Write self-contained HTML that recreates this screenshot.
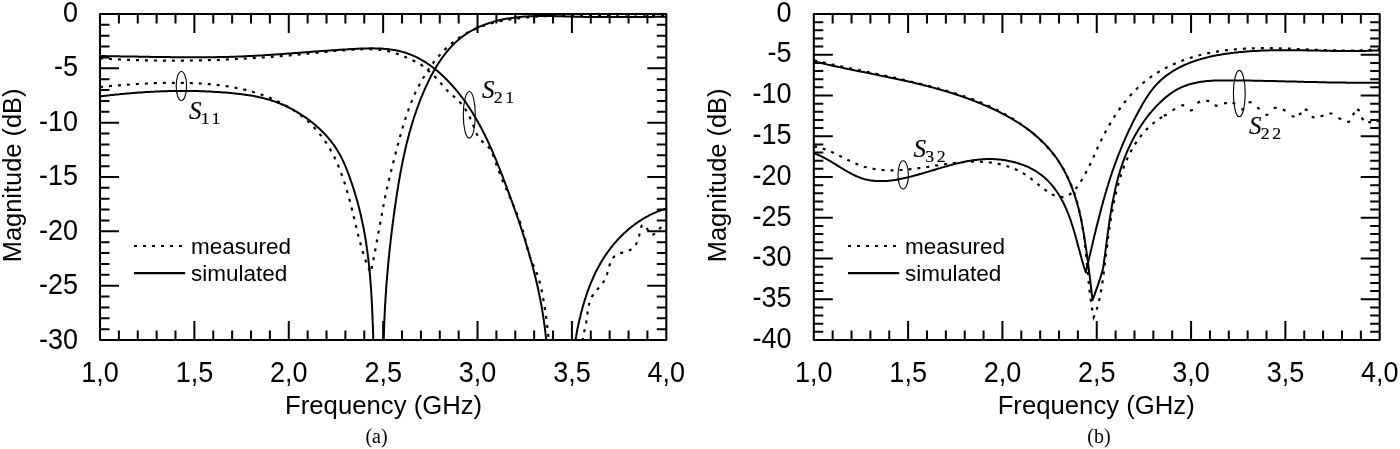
<!DOCTYPE html><html><head><meta charset="utf-8"><title>S-parameters</title><style>
html,body{margin:0;padding:0;background:#fff;}
body{width:1400px;height:449px;overflow:hidden;}
svg{display:block;will-change:transform;}
.t{font-family:"Liberation Sans",sans-serif;font-size:27px;fill:#000;}
.a{font-family:"Liberation Sans",sans-serif;font-size:25.6px;fill:#000;}
.l{font-family:"Liberation Sans",sans-serif;font-size:22.5px;fill:#000;}
.c{font-family:"Liberation Serif",serif;font-size:20px;fill:#000;}
.s{font-family:"Liberation Serif",serif;font-style:italic;font-size:25px;fill:#000;stroke:#000;stroke-width:0.2px;}
.sub{font-family:"Liberation Serif",serif;font-size:17.5px;letter-spacing:2.4px;fill:#000;stroke:#000;stroke-width:0.15px;}
</style></head><body><svg width="1400" height="449" viewBox="0 0 1400 449">
<defs><clipPath id="ca"><rect x="100" y="14" width="566.3" height="326"/></clipPath><clipPath id="cb"><rect x="813.8" y="14" width="565.9" height="326"/></clipPath></defs>
<g clip-path="url(#ca)">
<path d="M100.0 56.1L101.2 56.1 102.4 56.1 103.6 56.1 104.8 56.1 106.0 56.2 107.2 56.2 108.4 56.2 109.6 56.2 110.8 56.2 112.0 56.2 113.2 56.3 114.4 56.3 115.6 56.3 116.8 56.3 118.0 56.3 119.2 56.3 120.4 56.4 121.6 56.4 122.8 56.4 124.0 56.4 125.2 56.4 126.4 56.5 127.6 56.5 128.8 56.5 130.0 56.5 131.2 56.5 132.4 56.6 133.6 56.6 134.8 56.6 136.0 56.6 137.2 56.6 138.4 56.7 139.6 56.7 140.8 56.7 142.0 56.7 143.2 56.7 144.5 56.8 145.7 56.8 146.9 56.8 148.1 56.8 149.3 56.8 150.5 56.9 151.7 56.9 152.9 56.9 154.1 56.9 155.3 56.9 156.5 57.0 157.7 57.0 158.9 57.0 160.1 57.0 161.3 57.0 162.5 57.1 163.7 57.1 164.9 57.1 166.2 57.1 167.4 57.1 168.6 57.1 169.8 57.1 171.0 57.2 172.2 57.2 173.4 57.2 174.6 57.2 175.8 57.2 177.0 57.2 178.2 57.2 179.4 57.2 180.6 57.3 181.8 57.3 183.0 57.3 184.2 57.3 185.4 57.3 186.7 57.3 187.9 57.3 189.1 57.3 190.3 57.3 191.5 57.3 192.7 57.3 193.9 57.3 195.1 57.3 196.3 57.3 197.5 57.3 198.7 57.3 199.9 57.3 201.1 57.3 202.3 57.3 203.5 57.3 204.7 57.3 205.9 57.3 207.1 57.3 208.3 57.2 209.6 57.2 210.8 57.2 212.0 57.2 213.2 57.2 214.4 57.2 215.6 57.2 216.8 57.1 218.0 57.1 219.2 57.1 220.4 57.1 221.6 57.1 222.8 57.0 224.0 57.0 225.2 57.0 226.4 56.9 227.6 56.9 228.8 56.9 230.0 56.8 231.2 56.8 232.4 56.8 233.6 56.7 234.8 56.7 236.0 56.7 237.2 56.6 238.4 56.6 239.6 56.5 240.8 56.5 242.0 56.4 243.2 56.4 244.4 56.3 245.6 56.3 246.8 56.2 248.0 56.1 249.2 56.1 250.4 56.0 251.6 56.0 252.8 55.9 254.0 55.8 255.2 55.8 256.4 55.7 257.6 55.6 258.8 55.6 260.0 55.5 261.2 55.4 262.4 55.4 263.6 55.3 264.8 55.2 265.9 55.1 267.1 55.1 268.3 55.0 269.5 54.9 270.7 54.8 271.9 54.7 273.1 54.7 274.3 54.6 275.5 54.5 276.7 54.4 277.9 54.3 279.1 54.3 280.3 54.2 281.5 54.1 282.7 54.0 283.9 53.9 285.1 53.8 286.3 53.7 287.5 53.6 288.7 53.6 289.9 53.5 291.1 53.4 292.3 53.3 293.5 53.2 294.7 53.1 295.8 53.0 297.0 52.9 298.2 52.8 299.4 52.7 300.6 52.7 301.8 52.6 303.0 52.5 304.2 52.4 305.4 52.3 306.6 52.2 307.8 52.1 309.0 52.0 310.2 51.9 311.4 51.8 312.6 51.7 313.8 51.6 315.0 51.6 316.2 51.5 317.4 51.4 318.6 51.3 319.8 51.2 321.0 51.1 322.2 51.0 323.4 50.9 324.6 50.8 325.8 50.7 327.1 50.7 328.3 50.6 329.5 50.5 330.7 50.4 331.9 50.3 333.1 50.2 334.3 50.2 335.5 50.1 336.7 50.0 337.9 49.9 339.1 49.8 340.3 49.7 341.5 49.7 342.7 49.6 344.0 49.5 345.2 49.4 346.4 49.4 347.6 49.3 348.8 49.2 350.0 49.1 351.2 49.1 352.4 49.0 353.7 48.9 354.9 48.9 356.1 48.8 357.3 48.7 358.5 48.7 359.7 48.6 360.9 48.6 362.2 48.5 363.4 48.5 364.6 48.4 365.8 48.4 367.0 48.4 368.2 48.4 369.4 48.3 370.6 48.3 371.8 48.3 373.1 48.3 374.3 48.4 375.5 48.4 376.7 48.4 377.9 48.4 379.1 48.5 380.3 48.5 381.5 48.6 382.6 48.7 383.8 48.8 385.0 48.9 386.2 49.0 387.4 49.1 388.6 49.2 389.8 49.4 390.9 49.5 392.1 49.7 393.3 49.9 394.4 50.1 395.6 50.3 396.8 50.5 397.9 50.8 399.1 51.0 400.2 51.3 401.4 51.6 402.5 51.9 403.6 52.2 404.8 52.5 405.9 52.9 407.0 53.3 408.1 53.7 409.2 54.1 410.3 54.5 411.5 54.9 412.6 55.4 413.6 55.9 414.7 56.4 415.8 56.9 416.9 57.4 418.0 58.0 419.0 58.5 420.1 59.1 421.1 59.7 422.2 60.3 423.2 60.9 424.3 61.5 425.3 62.1 426.3 62.8 427.3 63.5 428.3 64.1 429.3 64.8 430.3 65.5 431.3 66.2 432.3 67.0 433.3 67.7 434.2 68.4 435.2 69.2 436.1 70.0 437.1 70.7 438.0 71.5 438.9 72.3 439.8 73.1 440.7 73.9 441.6 74.8 442.5 75.6 443.4 76.4 444.3 77.3 445.1 78.1 446.0 79.0 446.9 79.8 447.7 80.7 448.5 81.5 449.4 82.4 450.2 83.3 451.0 84.2 451.8 85.1 452.6 86.0 453.4 86.9 454.2 87.8 455.0 88.7 455.8 89.6 456.6 90.5 457.3 91.4 458.1 92.4 458.8 93.3 459.6 94.2 460.3 95.2 461.0 96.1 461.8 97.1 462.5 98.0 463.2 99.0 463.9 99.9 464.6 100.9 465.3 101.9 466.0 102.9 466.7 103.8 467.3 104.8 468.0 105.8 468.7 106.8 469.3 107.8 470.0 108.8 470.6 109.8 471.3 110.8 471.9 111.8 472.6 112.8 473.2 113.9 473.8 114.9 474.4 115.9 475.0 116.9 475.6 118.0 476.2 119.0 476.8 120.0 477.4 121.1 478.0 122.1 478.6 123.2 479.2 124.2 479.8 125.3 480.3 126.3 480.9 127.4 481.5 128.5 482.0 129.5 482.6 130.6 483.1 131.7 483.7 132.7 484.2 133.8 484.8 134.9 485.3 136.0 485.8 137.1 486.3 138.1 486.9 139.2 487.4 140.3 487.9 141.4 488.4 142.5 488.9 143.6 489.4 144.7 489.9 145.8 490.4 146.9 490.9 148.0 491.4 149.1 491.9 150.2 492.4 151.3 492.9 152.4 493.3 153.5 493.8 154.7 494.3 155.8 494.8 156.9 495.2 158.0 495.7 159.1 496.2 160.2 496.6 161.4 497.1 162.5 497.5 163.6 498.0 164.7 498.4 165.9 498.9 167.0 499.3 168.1 499.8 169.2 500.2 170.4 500.7 171.5 501.1 172.6 501.6 173.8 502.0 174.9 502.4 176.0 502.9 177.1 503.3 178.3 503.7 179.4 504.1 180.5 504.6 181.7 505.0 182.8 505.4 183.9 505.8 185.1 506.3 186.2 506.7 187.3 507.1 188.5 507.5 189.6 508.0 190.7 508.4 191.9 508.8 193.0 509.2 194.1 509.6 195.3 510.0 196.4 510.4 197.5 510.9 198.6 511.3 199.8 511.7 200.9 512.1 202.0 512.5 203.2 512.9 204.3 513.3 205.4 513.7 206.6 514.1 207.7 514.5 208.8 514.9 210.0 515.3 211.1 515.7 212.2 516.1 213.3 516.5 214.5 516.9 215.6 517.3 216.7 517.7 217.9 518.1 219.0 518.5 220.1 518.9 221.3 519.2 222.4 519.6 223.5 520.0 224.7 520.4 225.8 520.8 226.9 521.1 228.1 521.5 229.2 521.9 230.3 522.3 231.5 522.6 232.6 523.0 233.8 523.4 234.9 523.7 236.0 524.1 237.2 524.5 238.3 524.8 239.4 525.2 240.6 525.5 241.7 525.9 242.9 526.2 244.0 526.6 245.2 526.9 246.3 527.3 247.4 527.6 248.6 528.0 249.7 528.3 250.9 528.6 252.0 529.0 253.2 529.3 254.3 529.6 255.5 530.0 256.6 530.3 257.8 530.6 258.9 530.9 260.1 531.3 261.2 531.6 262.4 531.9 263.6 532.2 264.7 532.5 265.9 532.8 267.0 533.1 268.2 533.4 269.4 533.7 270.5 534.0 271.7 534.3 272.9 534.6 274.0 534.9 275.2 535.2 276.4 535.5 277.5 535.8 278.7 536.0 279.9 536.3 281.1 536.6 282.2 536.9 283.4 537.1 284.6 537.4 285.8 537.7 286.9 537.9 288.1 538.2 289.3 538.4 290.5 538.7 291.7 538.9 292.9 539.2 294.1 539.4 295.2 539.7 296.4 539.9 297.6 540.1 298.8 540.4 300.0 540.6 301.2 540.8 302.4 541.0 303.6 541.3 304.8 541.5 306.0 541.7 307.1 541.9 308.3 542.1 309.5 542.3 310.7 542.5 311.9 542.7 313.1 542.9 314.3 543.1 315.5 543.3 316.7 543.4 317.9 543.6 319.1 543.8 320.3 544.0 321.5 544.1 322.7 544.3 323.9 544.5 325.1 544.6 326.3 544.8 327.4 544.9 328.6 545.1 329.8 545.2 331.0 545.4 332.2 545.5 333.4 545.6 334.6 545.8 335.8 545.9 337.0 546.0 338.2 546.1 339.4 546.2 340.5 546.3 341.7 546.4 342.9 546.5 344.1 546.6 345.3 546.7 346.5 546.8 347.6 546.9 348.8 547.0 350.0" stroke="#000" stroke-width="2" fill="none" stroke-linejoin="round"/>
<path d="M573.8 350.0L574.0 348.8 574.2 347.7 574.3 346.5 574.5 345.3 574.7 344.1 574.9 343.0 575.1 341.8 575.3 340.6 575.5 339.4 575.7 338.2 576.0 337.0 576.2 335.9 576.4 334.7 576.6 333.5 576.8 332.3 577.1 331.1 577.3 329.9 577.5 328.7 577.8 327.6 578.0 326.4 578.3 325.2 578.5 324.0 578.8 322.8 579.1 321.6 579.3 320.4 579.6 319.2 579.9 318.1 580.2 316.9 580.5 315.7 580.7 314.5 581.0 313.3 581.3 312.1 581.7 311.0 582.0 309.8 582.3 308.6 582.6 307.4 582.9 306.3 583.3 305.1 583.6 303.9 584.0 302.7 584.3 301.6 584.7 300.4 585.0 299.2 585.4 298.1 585.8 296.9 586.2 295.8 586.5 294.6 586.9 293.5 587.3 292.3 587.7 291.2 588.2 290.0 588.6 288.9 589.0 287.7 589.4 286.6 589.9 285.5 590.3 284.3 590.8 283.2 591.2 282.1 591.7 281.0 592.2 279.9 592.7 278.8 593.2 277.6 593.7 276.5 594.2 275.4 594.7 274.3 595.2 273.3 595.7 272.2 596.3 271.1 596.8 270.0 597.4 268.9 598.0 267.9 598.5 266.8 599.1 265.7 599.7 264.7 600.3 263.6 600.9 262.6 601.5 261.5 602.1 260.5 602.8 259.5 603.4 258.5 604.1 257.4 604.7 256.4 605.4 255.4 606.1 254.4 606.8 253.4 607.4 252.4 608.2 251.4 608.9 250.5 609.6 249.5 610.3 248.5 611.1 247.6 611.8 246.6 612.6 245.7 613.3 244.7 614.1 243.8 614.9 242.9 615.7 242.0 616.5 241.1 617.3 240.2 618.1 239.3 618.9 238.4 619.8 237.5 620.6 236.7 621.5 235.8 622.3 235.0 623.2 234.1 624.1 233.3 625.0 232.5 625.8 231.7 626.7 230.9 627.7 230.1 628.6 229.3 629.5 228.5 630.4 227.7 631.4 227.0 632.3 226.2 633.3 225.5 634.2 224.8 635.2 224.1 636.2 223.4 637.2 222.7 638.1 222.0 639.1 221.3 640.2 220.6 641.2 220.0 642.2 219.4 643.2 218.7 644.3 218.1 645.3 217.5 646.4 216.9 647.4 216.3 648.5 215.8 649.5 215.2 650.6 214.7 651.7 214.2 652.8 213.6 653.9 213.1 655.0 212.6 656.1 212.2 657.2 211.7 658.4 211.2 659.5 210.8 660.6 210.4 661.8 210.0 662.9 209.6 664.1 209.2 665.3 208.8 666.4 208.5 667.6 208.1 668.8 207.8 670.0 207.5" stroke="#000" stroke-width="2" fill="none" stroke-linejoin="round"/>
<path d="M100.0 96.4L101.2 96.3 102.4 96.1 103.6 96.0 104.8 95.8 106.0 95.7 107.2 95.5 108.4 95.4 109.6 95.3 110.8 95.1 112.0 95.0 113.2 94.9 114.4 94.7 115.6 94.6 116.8 94.5 118.0 94.4 119.2 94.3 120.4 94.1 121.6 94.0 122.8 93.9 124.0 93.8 125.2 93.7 126.4 93.6 127.6 93.5 128.8 93.4 130.0 93.3 131.2 93.2 132.4 93.1 133.6 93.0 134.8 92.9 136.0 92.8 137.2 92.7 138.4 92.6 139.6 92.5 140.8 92.4 142.0 92.4 143.2 92.3 144.4 92.2 145.6 92.1 146.8 92.0 148.0 92.0 149.2 91.9 150.4 91.8 151.6 91.8 152.8 91.7 154.0 91.7 155.2 91.6 156.4 91.5 157.6 91.5 158.8 91.4 160.0 91.4 161.2 91.3 162.4 91.3 163.6 91.3 164.8 91.2 166.0 91.2 167.2 91.2 168.4 91.1 169.6 91.1 170.8 91.1 172.0 91.0 173.2 91.0 174.4 91.0 175.6 91.0 176.8 91.0 178.0 91.0 179.2 90.9 180.4 90.9 181.6 90.9 182.8 90.9 184.0 90.9 185.2 90.9 186.4 90.9 187.6 91.0 188.8 91.0 190.0 91.0 191.2 91.0 192.4 91.0 193.6 91.0 194.8 91.1 196.0 91.1 197.2 91.1 198.4 91.1 199.6 91.2 200.8 91.2 202.0 91.3 203.2 91.3 204.4 91.3 205.6 91.4 206.8 91.4 208.0 91.5 209.2 91.5 210.4 91.6 211.6 91.7 212.8 91.7 214.0 91.8 215.3 91.9 216.5 91.9 217.7 92.0 218.9 92.1 220.1 92.2 221.3 92.3 222.5 92.4 223.7 92.4 224.9 92.5 226.1 92.6 227.3 92.7 228.5 92.8 229.7 92.9 230.9 93.0 232.1 93.2 233.3 93.3 234.5 93.4 235.7 93.5 236.9 93.7 238.2 93.8 239.4 93.9 240.6 94.1 241.8 94.2 243.0 94.4 244.2 94.5 245.3 94.7 246.5 94.9 247.7 95.1 248.9 95.2 250.1 95.4 251.3 95.6 252.5 95.8 253.7 96.1 254.9 96.3 256.0 96.5 257.2 96.7 258.4 97.0 259.6 97.3 260.7 97.5 261.9 97.8 263.1 98.1 264.2 98.4 265.4 98.7 266.6 99.0 267.7 99.3 268.9 99.6 270.0 100.0 271.1 100.3 272.3 100.7 273.4 101.1 274.5 101.4 275.7 101.8 276.8 102.3 277.9 102.7 279.0 103.1 280.1 103.6 281.2 104.0 282.4 104.5 283.4 105.0 284.5 105.4 285.6 105.9 286.7 106.5 287.8 107.0 288.9 107.5 289.9 108.1 291.0 108.6 292.1 109.2 293.1 109.8 294.2 110.3 295.2 110.9 296.3 111.5 297.3 112.2 298.3 112.8 299.3 113.4 300.4 114.1 301.4 114.7 302.4 115.4 303.4 116.1 304.4 116.7 305.4 117.4 306.4 118.1 307.4 118.8 308.3 119.6 309.3 120.3 310.3 121.0 311.2 121.8 312.2 122.5 313.1 123.3 314.1 124.0 315.0 124.8 315.9 125.6 316.8 126.4 317.7 127.2 318.6 128.0 319.5 128.8 320.4 129.7 321.3 130.5 322.1 131.3 323.0 132.2 323.8 133.0 324.6 133.9 325.5 134.8 326.3 135.7 327.1 136.6 327.9 137.5 328.6 138.4 329.4 139.3 330.2 140.2 330.9 141.1 331.6 142.1 332.4 143.0 333.1 144.0 333.8 144.9 334.5 145.9 335.1 146.9 335.8 147.9 336.5 148.9 337.1 149.9 337.7 150.9 338.3 151.9 338.9 152.9 339.5 154.0 340.1 155.0 340.7 156.1 341.2 157.2 341.8 158.2 342.3 159.3 342.8 160.4 343.3 161.5 343.8 162.6 344.3 163.7 344.8 164.8 345.3 165.9 345.7 167.0 346.2 168.1 346.6 169.2 347.1 170.4 347.5 171.5 347.9 172.6 348.4 173.8 348.8 174.9 349.2 176.0 349.6 177.2 350.0 178.3 350.4 179.4 350.8 180.6 351.2 181.7 351.6 182.9 352.0 184.0 352.4 185.2 352.8 186.3 353.1 187.4 353.5 188.6 353.9 189.7 354.2 190.9 354.6 192.0 354.9 193.2 355.3 194.4 355.6 195.5 356.0 196.7 356.3 197.8 356.6 199.0 357.0 200.1 357.3 201.3 357.6 202.5 357.9 203.6 358.2 204.8 358.5 206.0 358.8 207.1 359.1 208.3 359.4 209.5 359.7 210.6 360.0 211.8 360.3 213.0 360.6 214.1 360.8 215.3 361.1 216.5 361.4 217.7 361.6 218.8 361.9 220.0 362.1 221.2 362.4 222.4 362.6 223.5 362.9 224.7 363.1 225.9 363.3 227.1 363.6 228.2 363.8 229.4 364.0 230.6 364.2 231.8 364.5 233.0 364.7 234.2 364.9 235.3 365.1 236.5 365.3 237.7 365.5 238.9 365.7 240.1 365.9 241.3 366.1 242.4 366.2 243.6 366.4 244.8 366.6 246.0 366.8 247.2 366.9 248.4 367.1 249.6 367.3 250.8 367.4 252.0 367.6 253.1 367.7 254.3 367.9 255.5 368.0 256.7 368.2 257.9 368.3 259.1 368.5 260.3 368.6 261.5 368.7 262.7 368.9 263.9 369.0 265.1 369.1 266.3 369.2 267.5 369.4 268.7 369.5 269.9 369.6 271.1 369.7 272.3 369.8 273.5 369.9 274.7 370.0 275.9 370.1 277.0 370.2 278.2 370.3 279.4 370.4 280.6 370.5 281.8 370.6 283.0 370.7 284.2 370.8 285.4 370.9 286.6 371.0 287.8 371.0 289.0 371.1 290.2 371.2 291.4 371.3 292.7 371.3 293.9 371.4 295.1 371.5 296.3 371.6 297.5 371.6 298.7 371.7 299.9 371.8 301.1 371.8 302.3 371.9 303.5 372.0 304.7 372.0 305.9 372.1 307.1 372.1 308.3 372.2 309.5 372.2 310.7 372.3 311.9 372.3 313.1 372.4 314.3 372.5 315.5 372.5 316.7 372.5 317.9 372.6 319.1 372.6 320.3 372.7 321.5 372.7 322.7 372.8 323.9 372.8 325.1 372.9 326.3 372.9 327.5 373.0 328.7 373.0 329.9 373.0 331.2 373.1 332.4 373.1 333.6 373.2 334.8 373.2 336.0 373.2 337.2 373.3 338.4 373.3 339.6 373.4 340.8 373.4 342.0 373.4 343.2 373.5 344.4 373.5 345.6 373.6 346.8 373.6 348.0 373.6 349.2 373.7 350.4 373.7 351.6 373.8 352.8 373.8 354.0 373.8 355.2 373.9 356.4 373.9 357.6 374.0 358.8 374.0 360.0" stroke="#000" stroke-width="2" fill="none" stroke-linejoin="round"/>
<path d="M383.5 360.0L383.5 358.8 383.5 357.6 383.5 356.4 383.5 355.2 383.5 354.0 383.5 352.8 383.6 351.6 383.6 350.4 383.6 349.2 383.6 348.0 383.6 346.7 383.6 345.5 383.7 344.3 383.7 343.1 383.7 341.9 383.7 340.7 383.8 339.5 383.8 338.3 383.8 337.1 383.8 335.9 383.9 334.7 383.9 333.5 383.9 332.3 384.0 331.1 384.0 329.9 384.1 328.7 384.1 327.5 384.1 326.3 384.2 325.1 384.2 323.9 384.3 322.7 384.3 321.5 384.4 320.3 384.4 319.1 384.5 317.9 384.5 316.7 384.6 315.5 384.6 314.2 384.7 313.0 384.8 311.8 384.8 310.6 384.9 309.4 384.9 308.2 385.0 307.0 385.1 305.8 385.1 304.6 385.2 303.4 385.3 302.2 385.4 301.0 385.4 299.8 385.5 298.6 385.6 297.4 385.7 296.2 385.7 295.0 385.8 293.8 385.9 292.6 386.0 291.4 386.1 290.2 386.1 289.0 386.2 287.8 386.3 286.6 386.4 285.4 386.5 284.2 386.6 283.0 386.7 281.8 386.8 280.6 386.9 279.4 387.0 278.2 387.1 277.0 387.2 275.8 387.3 274.6 387.4 273.4 387.5 272.2 387.6 271.0 387.7 269.8 387.8 268.6 387.9 267.4 388.0 266.2 388.1 265.0 388.2 263.8 388.3 262.6 388.5 261.4 388.6 260.2 388.7 259.0 388.8 257.8 388.9 256.6 389.1 255.4 389.2 254.2 389.3 253.0 389.4 251.8 389.6 250.6 389.7 249.4 389.8 248.3 389.9 247.1 390.1 245.9 390.2 244.7 390.3 243.5 390.5 242.3 390.6 241.1 390.7 239.9 390.9 238.7 391.0 237.5 391.2 236.3 391.3 235.1 391.4 233.9 391.6 232.7 391.7 231.5 391.9 230.3 392.0 229.1 392.2 227.9 392.3 226.7 392.5 225.5 392.6 224.3 392.8 223.2 392.9 222.0 393.1 220.8 393.3 219.6 393.4 218.4 393.6 217.2 393.7 216.0 393.9 214.8 394.1 213.6 394.2 212.4 394.4 211.2 394.6 210.0 394.7 208.8 394.9 207.7 395.1 206.5 395.2 205.3 395.4 204.1 395.6 202.9 395.8 201.7 395.9 200.5 396.1 199.3 396.3 198.1 396.5 196.9 396.7 195.7 396.8 194.6 397.0 193.4 397.2 192.2 397.4 191.0 397.6 189.8 397.8 188.6 398.0 187.4 398.2 186.2 398.3 185.1 398.5 183.9 398.7 182.7 398.9 181.5 399.1 180.3 399.4 179.1 399.6 177.9 399.8 176.8 400.0 175.6 400.2 174.4 400.4 173.2 400.6 172.0 400.8 170.8 401.1 169.7 401.3 168.5 401.5 167.3 401.7 166.1 402.0 164.9 402.2 163.8 402.4 162.6 402.7 161.4 402.9 160.2 403.2 159.1 403.4 157.9 403.7 156.7 403.9 155.5 404.2 154.4 404.4 153.2 404.7 152.0 405.0 150.8 405.2 149.7 405.5 148.5 405.8 147.3 406.0 146.2 406.3 145.0 406.6 143.8 406.9 142.6 407.2 141.5 407.5 140.3 407.8 139.2 408.1 138.0 408.4 136.8 408.7 135.7 409.0 134.5 409.3 133.3 409.6 132.2 410.0 131.0 410.3 129.9 410.6 128.7 410.9 127.6 411.3 126.4 411.6 125.2 412.0 124.1 412.3 122.9 412.7 121.8 413.0 120.6 413.4 119.5 413.8 118.3 414.1 117.2 414.5 116.0 414.9 114.9 415.3 113.8 415.7 112.6 416.1 111.5 416.4 110.3 416.9 109.2 417.3 108.0 417.7 106.9 418.1 105.8 418.5 104.6 418.9 103.5 419.4 102.4 419.8 101.2 420.2 100.1 420.7 99.0 421.1 97.8 421.6 96.7 422.1 95.6 422.5 94.5 423.0 93.3 423.5 92.2 424.0 91.1 424.4 90.0 424.9 88.9 425.4 87.7 425.9 86.6 426.4 85.5 427.0 84.4 427.5 83.3 428.0 82.2 428.5 81.1 429.1 80.0 429.6 78.9 430.2 77.8 430.7 76.7 431.3 75.6 431.9 74.5 432.5 73.5 433.0 72.4 433.6 71.3 434.2 70.3 434.8 69.2 435.5 68.2 436.1 67.1 436.7 66.1 437.3 65.0 438.0 64.0 438.6 63.0 439.3 62.0 440.0 61.0 440.6 60.0 441.3 59.0 442.0 58.0 442.7 57.0 443.4 56.1 444.2 55.1 444.9 54.2 445.6 53.2 446.4 52.3 447.1 51.4 447.9 50.5 448.6 49.6 449.4 48.7 450.2 47.8 451.0 46.9 451.8 46.1 452.6 45.2 453.5 44.4 454.3 43.6 455.1 42.8 456.0 42.0 456.9 41.2 457.7 40.4 458.6 39.6 459.5 38.9 460.4 38.1 461.4 37.4 462.3 36.7 463.2 36.0 464.2 35.3 465.1 34.7 466.1 34.0 467.1 33.4 468.1 32.7 469.1 32.1 470.1 31.5 471.1 30.9 472.1 30.4 473.2 29.8 474.2 29.3 475.3 28.7 476.3 28.2 477.4 27.7 478.5 27.2 479.6 26.7 480.6 26.2 481.7 25.8 482.8 25.3 484.0 24.9 485.1 24.5 486.2 24.1 487.3 23.7 488.5 23.3 489.6 22.9 490.7 22.6 491.9 22.2 493.1 21.9 494.2 21.5 495.4 21.2 496.5 20.9 497.7 20.6 498.9 20.3 500.1 20.0 501.2 19.8 502.4 19.5 503.6 19.3 504.8 19.1 506.0 18.8 507.2 18.6 508.4 18.4 509.6 18.2 510.8 18.1 512.0 17.9 513.2 17.7 514.4 17.6 515.6 17.4 516.8 17.3 518.0 17.2 519.2 17.0 520.4 16.9 521.6 16.8 522.8 16.7 524.0 16.6 525.3 16.5 526.5 16.5 527.7 16.4 528.9 16.3 530.1 16.3 531.3 16.2 532.6 16.2 533.8 16.2 535.0 16.1 536.2 16.1 537.4 16.1 538.7 16.1 539.9 16.0 541.1 16.0 542.3 16.0 543.6 16.0 544.8 16.0 546.0 16.0 547.2 16.0 548.4 16.1 549.7 16.1 550.9 16.1 552.1 16.1 553.3 16.1 554.6 16.2 555.8 16.2 557.0 16.2 558.2 16.2 559.4 16.3 560.7 16.3 561.9 16.3 563.1 16.4 564.3 16.4 565.5 16.4 566.7 16.5 568.0 16.5 569.2 16.5 570.4 16.6 571.6 16.6 572.8 16.6 574.0 16.7 575.2 16.7 576.4 16.7 577.6 16.7 578.8 16.8 580.0 16.8 581.2 16.8 582.4 16.8 583.6 16.9 584.8 16.9 586.0 16.9 587.2 16.9 588.4 16.9 589.6 16.9 590.8 17.0 592.0 17.0 593.2 17.0 594.4 17.0 595.6 17.0 596.8 17.0 598.0 17.0 599.2 17.1 600.4 17.1 601.6 17.1 602.8 17.1 603.9 17.1 605.1 17.1 606.3 17.1 607.5 17.1 608.7 17.1 609.9 17.1 611.1 17.1 612.3 17.1 613.5 17.1 614.7 17.1 615.8 17.1 617.0 17.1 618.2 17.1 619.4 17.1 620.6 17.1 621.8 17.1 623.0 17.1 624.2 17.1 625.4 17.1 626.6 17.1 627.8 17.1 629.0 17.1 630.1 17.1 631.3 17.1 632.5 17.1 633.7 17.1 634.9 17.1 636.1 17.1 637.3 17.0 638.5 17.0 639.7 17.0 640.9 17.0 642.1 17.0 643.3 17.0 644.5 17.0 645.7 17.0 646.9 16.9 648.1 16.9 649.3 16.9 650.5 16.9 651.7 16.9 653.0 16.9 654.2 16.8 655.4 16.8 656.6 16.8 657.8 16.8 659.0 16.8 660.2 16.8 661.4 16.7 662.7 16.7 663.9 16.7 665.1 16.7 666.3 16.7 667.5 16.6 668.8 16.6 670.0 16.6" stroke="#000" stroke-width="2" fill="none" stroke-linejoin="round"/>
<path d="M100.0 58.4L101.2 58.5 102.4 58.5 103.6 58.6 104.8 58.7 106.0 58.8 107.2 58.8 108.4 58.9 109.6 59.0 110.8 59.0 112.0 59.1 113.2 59.2 114.4 59.2 115.6 59.3 116.8 59.3 118.0 59.4 119.2 59.4 120.4 59.5 121.6 59.6 122.8 59.6 124.0 59.7 125.2 59.7 126.4 59.7 127.6 59.8 128.8 59.8 130.0 59.9 131.2 59.9 132.4 60.0 133.6 60.0 134.8 60.1 136.1 60.1 137.3 60.1 138.5 60.2 139.7 60.2 140.9 60.2 142.1 60.3 143.3 60.3 144.5 60.3 145.7 60.3 146.9 60.4 148.1 60.4 149.3 60.4 150.5 60.4 151.7 60.5 152.9 60.5 154.1 60.5 155.3 60.5 156.5 60.5 157.7 60.6 158.9 60.6 160.1 60.6 161.3 60.6 162.5 60.6 163.7 60.6 164.9 60.6 166.1 60.6 167.3 60.6 168.5 60.7 169.8 60.7 171.0 60.7 172.2 60.7 173.4 60.7 174.6 60.7 175.8 60.7 177.0 60.7 178.2 60.7 179.4 60.6 180.6 60.6 181.8 60.6 183.0 60.6 184.2 60.6 185.4 60.6 186.6 60.6 187.8 60.6 189.0 60.6 190.2 60.5 191.4 60.5 192.6 60.5 193.8 60.5 195.0 60.5 196.2 60.4 197.4 60.4 198.7 60.4 199.9 60.4 201.1 60.4 202.3 60.3 203.5 60.3 204.7 60.3 205.9 60.2 207.1 60.2 208.3 60.2 209.5 60.1 210.7 60.1 211.9 60.1 213.1 60.0 214.3 60.0 215.5 59.9 216.7 59.9 217.9 59.9 219.1 59.8 220.3 59.8 221.5 59.7 222.7 59.7 223.9 59.6 225.1 59.6 226.3 59.5 227.5 59.5 228.7 59.4 229.9 59.4 231.1 59.3 232.4 59.3 233.6 59.2 234.8 59.2 236.0 59.1 237.2 59.0 238.4 59.0 239.6 58.9 240.8 58.9 242.0 58.8 243.2 58.7 244.4 58.7 245.6 58.6 246.8 58.5 248.0 58.5 249.2 58.4 250.4 58.3 251.6 58.2 252.8 58.2 254.0 58.1 255.2 58.0 256.4 57.9 257.6 57.9 258.8 57.8 260.0 57.7 261.2 57.6 262.4 57.5 263.6 57.5 264.8 57.4 266.0 57.3 267.2 57.2 268.4 57.1 269.6 57.0 270.8 56.9 272.0 56.8 273.2 56.7 274.4 56.7 275.6 56.6 276.8 56.5 278.0 56.4 279.2 56.3 280.4 56.2 281.6 56.1 282.8 56.0 284.0 55.9 285.2 55.8 286.4 55.7 287.6 55.6 288.8 55.5 290.0 55.4 291.2 55.2 292.4 55.1 293.6 55.0 294.8 54.9 296.0 54.8 297.2 54.7 298.4 54.6 299.6 54.5 300.8 54.4 302.0 54.2 303.2 54.1 304.4 54.0 305.6 53.9 306.8 53.8 307.9 53.7 309.1 53.5 310.3 53.4 311.5 53.3 312.7 53.2 313.9 53.1 315.1 53.0 316.3 52.8 317.5 52.7 318.7 52.6 319.9 52.5 321.1 52.4 322.3 52.2 323.5 52.1 324.7 52.0 325.9 51.9 327.1 51.8 328.3 51.7 329.5 51.6 330.7 51.5 331.9 51.3 333.1 51.2 334.3 51.1 335.5 51.0 336.7 50.9 337.9 50.8 339.1 50.7 340.3 50.6 341.5 50.5 342.7 50.4 343.9 50.3 345.1 50.2 346.3 50.1 347.6 50.0 348.8 50.0 350.0 49.9 351.2 49.8 352.4 49.7 353.6 49.6 354.8 49.6 356.0 49.5 357.2 49.4 358.4 49.4 359.6 49.3 360.8 49.3 362.0 49.2 363.3 49.2 364.5 49.2 365.7 49.2 366.9 49.2 368.1 49.2 369.3 49.2 370.5 49.2 371.7 49.3 372.9 49.3 374.1 49.4 375.3 49.4 376.5 49.5 377.6 49.6 378.8 49.7 380.0 49.9 381.2 50.0 382.4 50.2 383.6 50.4 384.7 50.6 385.9 50.8 387.1 51.0 388.3 51.2 389.4 51.5 390.6 51.8 391.7 52.1 392.9 52.4 394.1 52.8 395.2 53.1 396.3 53.5 397.5 53.9 398.6 54.3 399.8 54.8 400.9 55.2 402.0 55.7 403.2 56.1 404.3 56.6 405.4 57.1 406.5 57.6 407.6 58.0 408.7 58.5 409.8 59.0 410.9 59.5 412.0 60.0 413.1 60.5 414.2 61.0 415.3 61.5 416.4 62.0 417.4 62.5 418.4 63.1 419.4 63.7 420.4 64.3 421.4 65.0 422.3 65.7 423.3 66.4 424.2 67.2 425.1 68.0 426.0 68.7 426.9 69.5 427.8 70.3 428.7 71.1 429.7 71.9 430.6 72.7 431.5 73.6 432.4 74.4 433.3 75.2 434.1 76.0 435.0 76.9 435.9 77.7 436.7 78.6 437.5 79.5 438.3 80.4 439.1 81.3 439.9 82.2 440.7 83.1 441.5 84.0 442.2 84.9 443.0 85.8 443.8 86.7 444.6 87.6 445.4 88.5 446.2 89.4 447.0 90.2 447.8 91.1 448.7 92.0 449.5 92.8 450.4 93.6 451.3 94.4 452.3 95.2 453.2 96.0 454.1 96.7 455.0 97.5 455.9 98.3 456.8 99.1 457.7 100.0 458.6 100.8 459.4 101.7 460.2 102.6 461.0 103.5 461.7 104.4 462.5 105.3 463.2 106.3 463.9 107.2 464.6 108.2 465.2 109.2 465.9 110.2 466.5 111.2 467.1 112.2 467.7 113.3 468.3 114.3 468.9 115.4 469.4 116.5 469.9 117.5 470.4 118.6 470.9 119.7 471.4 120.8 471.9 121.9 472.4 123.0 472.8 124.1 473.2 125.3 473.7 126.4 474.1 127.5 474.5 128.6 474.9 129.8 475.4 130.9 475.8 132.0 476.3 133.0 476.8 134.1 477.3 135.1 477.9 136.2 478.5 137.1 479.2 138.1 479.9 139.0 480.7 139.9 481.6 140.8 482.5 141.6 483.4 142.4 484.4 143.2 485.3 144.0 486.2 144.8 487.1 145.6 488.0 146.5 488.8 147.4 489.5 148.3 490.1 149.3 490.8 150.3 491.3 151.3 491.9 152.4 492.4 153.5 492.8 154.6 493.3 155.7 493.7 156.8 494.1 158.0 494.5 159.1 494.9 160.2 495.3 161.4 495.7 162.5 496.1 163.7 496.5 164.8 496.9 166.0 497.3 167.1 497.7 168.2 498.1 169.4 498.6 170.5 499.0 171.6 499.4 172.7 499.9 173.8 500.3 174.9 500.8 176.1 501.2 177.2 501.7 178.3 502.2 179.4 502.6 180.5 503.1 181.6 503.6 182.7 504.0 183.8 504.5 184.9 505.0 186.0 505.5 187.1 506.0 188.2 506.4 189.3 506.9 190.4 507.4 191.5 507.9 192.6 508.4 193.7 508.9 194.8 509.4 195.9 509.8 197.0 510.3 198.1 510.8 199.2 511.3 200.3 511.8 201.4 512.2 202.5 512.7 203.6 513.2 204.7 513.7 205.8 514.1 206.9 514.6 208.0 515.1 209.1 515.5 210.3 516.0 211.4 516.4 212.5 516.9 213.6 517.3 214.7 517.8 215.9 518.2 217.0 518.6 218.1 519.0 219.2 519.4 220.4 519.9 221.5 520.3 222.6 520.7 223.8 521.0 224.9 521.4 226.1 521.8 227.2 522.2 228.4 522.5 229.5 522.9 230.7 523.2 231.8 523.6 233.0 523.9 234.1 524.2 235.3 524.5 236.5 524.8 237.6 525.1 238.8 525.4 240.0 525.7 241.1 526.0 242.3 526.2 243.5 526.5 244.7 526.8 245.8 527.1 247.0 527.4 248.2 527.7 249.4 528.0 250.5 528.3 251.7 528.6 252.8 529.0 254.0 529.3 255.1 529.7 256.3 530.1 257.4 530.5 258.5 530.9 259.7 531.4 260.8 531.8 261.9 532.3 263.0 532.8 264.1 533.3 265.2 533.8 266.3 534.2 267.4 534.7 268.5 535.2 269.6 535.7 270.7 536.1 271.8 536.6 273.0 537.0 274.1 537.4 275.2 537.8 276.4 538.2 277.5 538.6 278.6 538.9 279.8 539.3 281.0 539.6 282.1 539.9 283.3 540.2 284.4 540.5 285.6 540.8 286.8 541.0 288.0 541.3 289.1 541.6 290.3 541.8 291.5 542.0 292.7 542.3 293.9 542.5 295.1 542.8 296.2 543.0 297.4 543.2 298.6 543.4 299.8 543.6 301.0 543.8 302.2 544.0 303.4 544.3 304.6 544.4 305.7 544.6 306.9 544.8 308.1 545.0 309.3 545.2 310.5 545.4 311.7 545.6 312.9 545.7 314.1 545.9 315.3 546.1 316.5 546.2 317.7 546.4 318.9 546.5 320.0 546.7 321.2 546.8 322.4 547.0 323.6 547.1 324.8 547.3 326.0 547.4 327.2 547.5 328.4 547.7 329.6 547.8 330.8 547.9 332.0 548.1 333.2 548.2 334.4 548.3 335.6 548.4 336.8 548.5 338.0 548.6 339.2 548.7 340.4 548.8 341.6 548.9 342.8 549.0 344.0 549.1 345.2 549.2 346.4 549.3 347.6 549.4 348.8 549.5 350.0" stroke="#000" stroke-width="2.2" stroke-dasharray="3 6" fill="none"/>
<path d="M582.8 350.0L582.6 348.7 582.5 347.5 582.4 346.2 582.4 345.0 582.4 343.8 582.5 342.6 582.6 341.4 582.7 340.2 582.8 339.0 583.0 337.8 583.2 336.6 583.4 335.4 583.7 334.3 583.9 333.1 584.2 331.9 584.4 330.7 584.7 329.6 585.0 328.4 585.2 327.2 585.5 326.0 585.7 324.8 585.9 323.6 586.2 322.4 586.4 321.2 586.5 320.0 586.7 318.8 586.9 317.5 587.0 316.3 587.2 315.1 587.4 313.9 587.5 312.6 587.7 311.4 587.9 310.2 588.1 309.0 588.3 307.8 588.5 306.6 588.8 305.5 589.0 304.3 589.4 303.1 589.7 302.0 590.1 300.9 590.5 299.8 591.0 298.7 591.5 297.7 592.0 296.6 592.6 295.6 593.3 294.7 593.9 293.7 594.7 292.7 595.4 291.8 596.2 290.9 597.0 290.0 597.8 289.0 598.6 288.1 599.4 287.2 600.2 286.3 600.9 285.3 601.7 284.4 602.4 283.4 603.1 282.5 603.7 281.5 604.3 280.4 604.9 279.4 605.4 278.3 605.9 277.2 606.3 276.1 606.8 274.9 607.2 273.8 607.5 272.6 607.9 271.3 608.2 270.1 608.6 268.9 608.9 267.6 609.2 266.4 609.6 265.1 610.0 263.9 610.4 262.8 610.9 261.6 611.4 260.5 611.9 259.5 612.6 258.5 613.2 257.6 614.0 256.8 614.8 256.0 615.7 255.4 616.7 254.8 617.8 254.3 618.9 253.8 620.0 253.4 621.2 253.0 622.4 252.6 623.6 252.3 624.9 251.9 626.1 251.6 627.2 251.2 628.4 250.7 629.5 250.2 630.6 249.7 631.6 249.1 632.5 248.4 633.4 247.6 634.2 246.7 634.9 245.8 635.6 244.8 636.2 243.8 636.8 242.7 637.3 241.6 637.8 240.5 638.2 239.3 638.6 238.1 638.9 236.8 639.2 235.6 639.5 234.2 639.8 232.8 640.1 231.4 640.4 230.0 640.8 228.6 641.1 227.3 641.5 226.3 642.0 225.4 642.5 224.9 643.1 224.7 643.8 224.9 644.5 225.5 645.3 226.3 646.1 227.3 646.8 228.4 647.6 229.6 648.3 230.8 649.0 232.0 649.7 233.0 650.4 233.9 651.2 234.5 652.0 234.7 652.9 234.6 653.7 234.3 654.6 233.7 655.5 232.9 656.5 232.0 657.4 231.0 658.3 230.0 659.3 229.0 660.2 228.1 661.2 227.2 662.1 226.4 663.0 225.7 664.0 225.0 665.0 224.3 665.9 223.7 666.9 223.0 667.9 222.4 669.0 221.7 670.0 221.0" stroke="#000" stroke-width="2.2" stroke-dasharray="3 6" fill="none"/>
<path d="M100.0 87.0L101.2 86.9 102.4 86.8 103.6 86.7 104.8 86.5 106.0 86.4 107.2 86.3 108.4 86.2 109.6 86.1 110.8 86.0 112.0 85.9 113.2 85.8 114.4 85.7 115.6 85.6 116.8 85.5 117.9 85.4 119.1 85.3 120.3 85.2 121.5 85.1 122.7 85.0 123.9 84.9 125.1 84.8 126.3 84.7 127.5 84.7 128.7 84.6 129.9 84.5 131.1 84.4 132.3 84.3 133.5 84.2 134.7 84.2 135.9 84.1 137.1 84.0 138.3 83.9 139.5 83.9 140.7 83.8 141.9 83.7 143.1 83.7 144.3 83.6 145.5 83.6 146.7 83.5 147.9 83.4 149.1 83.4 150.3 83.3 151.5 83.3 152.7 83.2 153.9 83.2 155.1 83.1 156.3 83.1 157.5 83.1 158.7 83.0 159.9 83.0 161.1 83.0 162.3 82.9 163.5 82.9 164.7 82.9 165.9 82.9 167.1 82.8 168.3 82.8 169.6 82.8 170.8 82.8 172.0 82.8 173.2 82.8 174.4 82.8 175.6 82.8 176.8 82.8 178.0 82.8 179.2 82.8 180.5 82.8 181.7 82.8 182.9 82.9 184.1 82.9 185.3 82.9 186.5 82.9 187.7 83.0 189.0 83.0 190.2 83.0 191.4 83.1 192.6 83.1 193.8 83.2 195.1 83.2 196.3 83.3 197.5 83.3 198.7 83.4 199.9 83.5 201.2 83.5 202.4 83.6 203.6 83.7 204.8 83.8 206.0 83.9 207.2 84.0 208.5 84.1 209.7 84.2 210.9 84.3 212.1 84.4 213.3 84.5 214.5 84.6 215.8 84.8 217.0 84.9 218.2 85.1 219.4 85.2 220.6 85.3 221.8 85.5 223.0 85.7 224.2 85.8 225.4 86.0 226.6 86.2 227.8 86.4 229.0 86.6 230.2 86.8 231.4 87.0 232.6 87.2 233.8 87.4 235.0 87.6 236.2 87.9 237.4 88.1 238.6 88.3 239.8 88.6 241.0 88.8 242.1 89.1 243.3 89.4 244.5 89.7 245.7 89.9 246.8 90.2 248.0 90.5 249.2 90.8 250.4 91.2 251.5 91.5 252.7 91.8 253.8 92.2 255.0 92.5 256.2 92.9 257.3 93.2 258.5 93.6 259.6 94.0 260.7 94.4 261.9 94.7 263.0 95.2 264.2 95.6 265.3 96.0 266.4 96.4 267.5 96.8 268.7 97.3 269.8 97.7 270.9 98.2 272.0 98.7 273.1 99.2 274.2 99.6 275.3 100.1 276.4 100.6 277.5 101.2 278.6 101.7 279.6 102.2 280.7 102.8 281.8 103.3 282.8 103.9 283.9 104.4 284.9 105.0 286.0 105.6 287.0 106.2 288.0 106.8 289.1 107.4 290.1 108.0 291.1 108.6 292.1 109.3 293.1 109.9 294.1 110.6 295.1 111.2 296.1 111.9 297.0 112.6 298.0 113.3 298.9 114.0 299.9 114.7 300.8 115.4 301.8 116.2 302.7 116.9 303.6 117.6 304.5 118.4 305.4 119.2 306.3 119.9 307.2 120.7 308.1 121.5 308.9 122.3 309.8 123.1 310.6 124.0 311.5 124.8 312.3 125.6 313.1 126.5 313.9 127.3 314.7 128.2 315.5 129.1 316.3 129.9 317.1 130.8 317.9 131.7 318.6 132.6 319.4 133.5 320.1 134.5 320.8 135.4 321.6 136.3 322.3 137.3 323.0 138.2 323.7 139.2 324.4 140.1 325.0 141.1 325.7 142.1 326.4 143.1 327.0 144.1 327.6 145.1 328.3 146.1 328.9 147.1 329.5 148.1 330.1 149.1 330.7 150.2 331.3 151.2 331.9 152.3 332.4 153.3 333.0 154.4 333.5 155.4 334.1 156.5 334.6 157.6 335.1 158.7 335.6 159.7 336.1 160.8 336.6 161.9 337.1 163.0 337.6 164.1 338.1 165.2 338.5 166.4 339.0 167.5 339.5 168.6 339.9 169.7 340.3 170.9 340.8 172.0 341.2 173.1 341.6 174.3 342.0 175.4 342.4 176.6 342.8 177.7 343.2 178.9 343.6 180.0 344.0 181.2 344.4 182.4 344.8 183.5 345.1 184.7 345.5 185.9 345.9 187.1 346.2 188.2 346.6 189.4 346.9 190.6 347.3 191.8 347.6 193.0 347.9 194.2 348.3 195.4 348.6 196.6 348.9 197.7 349.3 198.9 349.6 200.1 349.9 201.3 350.2 202.5 350.5 203.7 350.8 204.9 351.1 206.1 351.4 207.3 351.7 208.5 352.0 209.7 352.3 210.9 352.6 212.1 352.9 213.3 353.2 214.5 353.5 215.7 353.8 216.9 354.1 218.1 354.4 219.3 354.7 220.5 354.9 221.7 355.2 222.9 355.5 224.1 355.8 225.3 356.1 226.5 356.4 227.7 356.7 228.9 357.0 230.1 357.3 231.3 357.5 232.4 357.8 233.6 358.1 234.8 358.4 236.0 358.7 237.1 359.0 238.3 359.3 239.5 359.6 240.6 359.9 241.8 360.3 243.0 360.6 244.1 360.9 245.3 361.2 246.4 361.5 247.6 361.9 248.7 362.2 249.8 362.5 251.0 362.9 252.1 363.2 253.2 363.6 254.4 364.0 255.5 364.3 256.6 364.7 257.7 365.1 258.8 365.4 259.9 365.8 261.0 366.2 262.1 366.6 263.2 367.0 264.3 367.5 265.3 367.9 266.4 368.3 267.5 368.7 268.5 369.2 269.6 369.6 270.6 370.1 271.7 370.6 272.7 370.9 271.5 371.1 270.4 371.4 269.2 371.6 268.0 371.9 266.9 372.1 265.7 372.4 264.5 372.6 263.4 372.9 262.2 373.1 261.0 373.4 259.9 373.6 258.7 373.8 257.5 374.1 256.3 374.3 255.2 374.5 254.0 374.7 252.8 375.0 251.6 375.2 250.5 375.4 249.3 375.6 248.1 375.9 246.9 376.1 245.8 376.3 244.6 376.5 243.4 376.7 242.2 376.9 241.0 377.2 239.9 377.4 238.7 377.6 237.5 377.8 236.3 378.0 235.1 378.2 234.0 378.4 232.8 378.7 231.6 378.9 230.4 379.1 229.2 379.3 228.0 379.5 226.9 379.7 225.7 379.9 224.5 380.2 223.3 380.4 222.1 380.6 221.0 380.8 219.8 381.0 218.6 381.2 217.4 381.4 216.2 381.7 215.0 381.9 213.9 382.1 212.7 382.3 211.5 382.5 210.3 382.8 209.1 383.0 208.0 383.2 206.8 383.4 205.6 383.7 204.4 383.9 203.2 384.1 202.1 384.4 200.9 384.6 199.7 384.9 198.5 385.1 197.4 385.3 196.2 385.6 195.0 385.8 193.8 386.1 192.7 386.3 191.5 386.6 190.3 386.8 189.2 387.1 188.0 387.4 186.8 387.6 185.7 387.9 184.5 388.1 183.3 388.4 182.2 388.7 181.0 389.0 179.8 389.2 178.7 389.5 177.5 389.8 176.3 390.1 175.2 390.4 174.0 390.6 172.8 390.9 171.7 391.2 170.5 391.5 169.4 391.8 168.2 392.1 167.0 392.4 165.9 392.7 164.7 393.0 163.5 393.3 162.4 393.6 161.2 393.9 160.1 394.2 158.9 394.5 157.7 394.8 156.6 395.1 155.4 395.4 154.3 395.7 153.1 396.0 151.9 396.3 150.8 396.6 149.6 396.9 148.4 397.2 147.3 397.5 146.1 397.8 145.0 398.1 143.8 398.5 142.6 398.8 141.5 399.1 140.3 399.4 139.1 399.7 138.0 400.0 136.8 400.4 135.7 400.7 134.5 401.0 133.3 401.3 132.2 401.7 131.0 402.0 129.8 402.4 128.7 402.7 127.5 403.0 126.4 403.4 125.2 403.7 124.1 404.1 122.9 404.5 121.7 404.8 120.6 405.2 119.4 405.6 118.3 405.9 117.1 406.3 116.0 406.7 114.8 407.1 113.7 407.5 112.6 407.9 111.4 408.3 110.3 408.7 109.1 409.1 108.0 409.5 106.9 410.0 105.7 410.4 104.6 410.8 103.5 411.3 102.3 411.8 101.2 412.2 100.1 412.7 99.0 413.2 97.9 413.6 96.7 414.1 95.6 414.6 94.5 415.1 93.4 415.6 92.3 416.2 91.2 416.7 90.1 417.2 89.0 417.8 87.9 418.3 86.8 418.9 85.7 419.4 84.7 420.0 83.6 420.6 82.5 421.2 81.4 421.8 80.4 422.3 79.3 423.0 78.3 423.6 77.2 424.2 76.2 424.8 75.1 425.5 74.1 426.1 73.1 426.8 72.1 427.4 71.1 428.1 70.0 428.8 69.0 429.4 68.0 430.1 67.1 430.8 66.1 431.5 65.1 432.2 64.1 433.0 63.2 433.7 62.2 434.4 61.3 435.2 60.3 435.9 59.4 436.7 58.5 437.4 57.6 438.2 56.7 439.0 55.8 439.8 54.9 440.6 54.0 441.4 53.1 442.2 52.2 443.0 51.4 443.9 50.5 444.7 49.7 445.5 48.9 446.4 48.1 447.3 47.3 448.1 46.5 449.0 45.7 449.9 44.9 450.8 44.1 451.7 43.4 452.6 42.6 453.5 41.9 454.4 41.2 455.4 40.5 456.3 39.7 457.3 39.1 458.2 38.4 459.2 37.7 460.2 37.1 461.1 36.4 462.1 35.8 463.1 35.2 464.1 34.6 465.1 34.0 466.2 33.4 467.2 32.8 468.2 32.3 469.3 31.7 470.3 31.2 471.4 30.7 472.5 30.2 473.5 29.7 474.6 29.2 475.7 28.7 476.8 28.3 477.9 27.8 479.0 27.4 480.1 27.0 481.3 26.6 482.4 26.2 483.5 25.8 484.7 25.4 485.8 25.0 487.0 24.6 488.1 24.3 489.3 24.0 490.4 23.6 491.6 23.3 492.8 23.0 494.0 22.7 495.2 22.4 496.3 22.1 497.5 21.8 498.7 21.6 499.9 21.3 501.1 21.0 502.3 20.8 503.5 20.6 504.7 20.3 505.9 20.1 507.2 19.9 508.4 19.7 509.6 19.5 510.8 19.3 512.0 19.1 513.2 18.9 514.5 18.8 515.7 18.6 516.9 18.4 518.1 18.3 519.4 18.1 520.6 18.0 521.8 17.9 523.0 17.7 524.3 17.6 525.5 17.5 526.7 17.4 527.9 17.3 529.2 17.1 530.4 17.0 531.6 16.9 532.8 16.9 534.1 16.8 535.3 16.7 536.5 16.6 537.7 16.5 538.9 16.4 540.1 16.4 541.4 16.3 542.6 16.2 543.8 16.2 545.0 16.1 546.2 16.1 547.4 16.0 548.6 16.0 549.8 15.9 551.1 15.9 552.3 15.8 553.5 15.8 554.7 15.8 555.9 15.7 557.1 15.7 558.3 15.7 559.5 15.7 560.7 15.7 561.9 15.6 563.1 15.6 564.3 15.6 565.5 15.6 566.7 15.6 567.9 15.6 569.1 15.6 570.3 15.6 571.5 15.6 572.7 15.6 573.9 15.6 575.1 15.6 576.3 15.6 577.5 15.6 578.7 15.6 579.9 15.7 581.1 15.7 582.3 15.7 583.5 15.7 584.7 15.7 585.9 15.7 587.1 15.8 588.3 15.8 589.5 15.8 590.7 15.8 591.9 15.8 593.1 15.9 594.2 15.9 595.4 15.9 596.6 15.9 597.8 16.0 599.0 16.0 600.2 16.0 601.4 16.0 602.6 16.1 603.8 16.1 605.0 16.1 606.2 16.1 607.4 16.2 608.6 16.2 609.8 16.2 611.0 16.2 612.2 16.3 613.4 16.3 614.6 16.3 615.7 16.3 616.9 16.3 618.1 16.4 619.3 16.4 620.5 16.4 621.7 16.4 622.9 16.4 624.1 16.4 625.3 16.5 626.5 16.5 627.7 16.5 628.9 16.5 630.1 16.5 631.3 16.5 632.5 16.5 633.7 16.5 634.9 16.5 636.1 16.5 637.3 16.5 638.5 16.5 639.7 16.5 640.9 16.5 642.1 16.4 643.3 16.4 644.5 16.4 645.7 16.4 646.9 16.4 648.2 16.3 649.4 16.3 650.6 16.3 651.8 16.2 653.0 16.2 654.2 16.2 655.4 16.1 656.6 16.1 657.8 16.0 659.0 16.0 660.3 15.9 661.5 15.8 662.7 15.8 663.9 15.7 665.1 15.6 666.3 15.6 667.6 15.5 668.8 15.4 670.0 15.3" stroke="#000" stroke-width="2.2" stroke-dasharray="3 6" fill="none"/>
</g>
<g clip-path="url(#cb)">
<path d="M814.0 61.4L815.2 61.7 816.3 62.0 817.5 62.2 818.7 62.5 819.9 62.8 821.1 63.1 822.2 63.3 823.4 63.6 824.6 63.9 825.8 64.1 826.9 64.4 828.1 64.7 829.3 64.9 830.5 65.2 831.7 65.5 832.8 65.7 834.0 66.0 835.2 66.2 836.4 66.5 837.6 66.7 838.7 67.0 839.9 67.2 841.1 67.5 842.3 67.7 843.5 68.0 844.6 68.2 845.8 68.5 847.0 68.7 848.2 69.0 849.4 69.2 850.6 69.5 851.7 69.7 852.9 69.9 854.1 70.2 855.3 70.4 856.5 70.7 857.7 70.9 858.8 71.2 860.0 71.4 861.2 71.6 862.4 71.9 863.6 72.1 864.8 72.3 865.9 72.6 867.1 72.8 868.3 73.1 869.5 73.3 870.7 73.5 871.9 73.8 873.0 74.0 874.2 74.3 875.4 74.5 876.6 74.7 877.8 75.0 879.0 75.2 880.1 75.5 881.3 75.7 882.5 76.0 883.7 76.2 884.9 76.4 886.1 76.7 887.2 76.9 888.4 77.2 889.6 77.4 890.8 77.7 892.0 77.9 893.1 78.2 894.3 78.4 895.5 78.7 896.7 78.9 897.9 79.2 899.0 79.4 900.2 79.7 901.4 80.0 902.6 80.2 903.7 80.5 904.9 80.7 906.1 81.0 907.3 81.3 908.4 81.5 909.6 81.8 910.8 82.1 912.0 82.4 913.1 82.6 914.3 82.9 915.5 83.2 916.6 83.5 917.8 83.7 919.0 84.0 920.2 84.3 921.3 84.6 922.5 84.9 923.7 85.2 924.8 85.5 926.0 85.8 927.2 86.1 928.3 86.4 929.5 86.7 930.7 87.0 931.8 87.3 933.0 87.6 934.1 87.9 935.3 88.2 936.5 88.6 937.6 88.9 938.8 89.2 939.9 89.5 941.1 89.9 942.2 90.2 943.4 90.5 944.6 90.9 945.7 91.2 946.9 91.6 948.0 91.9 949.2 92.3 950.3 92.6 951.5 93.0 952.6 93.3 953.8 93.7 954.9 94.1 956.0 94.5 957.2 94.8 958.3 95.2 959.5 95.6 960.6 96.0 961.8 96.4 962.9 96.8 964.0 97.2 965.2 97.6 966.3 98.0 967.4 98.4 968.6 98.8 969.7 99.2 970.8 99.6 972.0 100.1 973.1 100.5 974.2 100.9 975.4 101.4 976.5 101.8 977.6 102.3 978.7 102.7 979.9 103.2 981.0 103.6 982.1 104.1 983.2 104.6 984.3 105.1 985.4 105.5 986.6 106.0 987.7 106.5 988.8 107.0 989.9 107.5 991.0 108.0 992.1 108.5 993.2 109.0 994.3 109.5 995.4 110.1 996.5 110.6 997.6 111.1 998.7 111.7 999.8 112.2 1000.9 112.8 1002.0 113.3 1003.0 113.9 1004.1 114.5 1005.2 115.0 1006.3 115.6 1007.3 116.2 1008.4 116.8 1009.5 117.4 1010.5 118.0 1011.6 118.6 1012.6 119.2 1013.6 119.8 1014.7 120.5 1015.7 121.1 1016.8 121.7 1017.8 122.4 1018.8 123.0 1019.8 123.7 1020.8 124.4 1021.8 125.0 1022.8 125.7 1023.8 126.4 1024.8 127.1 1025.8 127.8 1026.8 128.5 1027.7 129.2 1028.7 129.9 1029.7 130.6 1030.6 131.4 1031.5 132.1 1032.5 132.9 1033.4 133.6 1034.3 134.4 1035.3 135.1 1036.2 135.9 1037.1 136.7 1038.0 137.5 1038.9 138.3 1039.7 139.1 1040.6 139.9 1041.5 140.7 1042.3 141.6 1043.2 142.4 1044.0 143.2 1044.9 144.1 1045.7 145.0 1046.5 145.8 1047.3 146.7 1048.1 147.6 1048.9 148.5 1049.7 149.4 1050.4 150.3 1051.2 151.2 1052.0 152.1 1052.7 153.1 1053.4 154.0 1054.2 154.9 1054.9 155.9 1055.6 156.9 1056.3 157.8 1057.0 158.8 1057.6 159.8 1058.3 160.8 1059.0 161.8 1059.6 162.8 1060.2 163.9 1060.9 164.9 1061.5 165.9 1062.1 167.0 1062.7 168.0 1063.3 169.1 1063.9 170.1 1064.4 171.2 1065.0 172.2 1065.6 173.3 1066.1 174.4 1066.6 175.5 1067.2 176.6 1067.7 177.7 1068.2 178.8 1068.7 179.9 1069.2 181.0 1069.7 182.1 1070.2 183.2 1070.6 184.4 1071.1 185.5 1071.5 186.6 1072.0 187.8 1072.4 188.9 1072.8 190.0 1073.2 191.2 1073.7 192.3 1074.1 193.5 1074.5 194.6 1074.8 195.8 1075.2 196.9 1075.6 198.1 1075.9 199.3 1076.3 200.4 1076.6 201.6 1077.0 202.8 1077.3 203.9 1077.6 205.1 1078.0 206.3 1078.3 207.4 1078.6 208.6 1078.9 209.8 1079.2 210.9 1079.4 212.1 1079.7 213.3 1080.0 214.5 1080.3 215.6 1080.5 216.8 1080.8 218.0 1081.0 219.2 1081.3 220.4 1081.5 221.5 1081.7 222.7 1082.0 223.9 1082.2 225.1 1082.4 226.3 1082.6 227.5 1082.8 228.6 1083.0 229.8 1083.3 231.0 1083.5 232.2 1083.7 233.4 1083.9 234.6 1084.1 235.7 1084.3 236.9 1084.4 238.1 1084.6 239.3 1084.8 240.5 1085.0 241.7 1085.2 242.9 1085.4 244.1 1085.6 245.3 1085.7 246.4 1085.9 247.6 1086.1 248.8 1086.3 250.0 1086.4 251.2 1086.6 252.4 1086.8 253.6 1086.9 254.8 1087.1 256.0 1087.3 257.2 1087.4 258.4 1087.6 259.6 1087.8 260.8 1087.9 262.0 1088.1 263.1 1088.2 264.3 1088.4 265.5 1088.5 266.7 1088.7 267.9 1088.8 269.1 1089.0 270.3 1089.1 271.5 1089.3 272.7 1089.4 273.9 1089.6 275.1 1089.7 276.3 1089.9 277.5 1090.0 278.7 1090.2 279.9 1090.3 281.1 1090.4 282.3 1090.6 283.5 1090.7 284.7 1090.9 285.9 1091.0 287.1 1091.1 288.3 1091.3 289.5 1091.4 290.7 1091.6 291.9 1091.7 293.1 1091.8 294.3 1092.0 295.5 1092.1 296.7 1092.2 297.9 1092.4 299.1 1092.5 300.3 1092.9 299.1 1093.4 297.9 1093.8 296.7 1094.2 295.5 1094.7 294.3 1095.1 293.1 1095.5 291.9 1096.0 290.7 1096.4 289.4 1096.8 288.2 1097.3 287.0 1097.7 285.8 1098.1 284.6 1098.5 283.4 1098.9 282.2 1099.3 281.0 1099.7 279.8 1100.1 278.5 1100.5 277.3 1100.9 276.1 1101.3 274.9 1101.6 273.6 1102.0 272.4 1102.3 271.2 1102.7 269.9 1103.0 268.7 1103.2 267.5 1103.4 266.3 1103.5 265.1 1103.7 263.9 1103.9 262.7 1104.0 261.5 1104.2 260.3 1104.4 259.1 1104.5 257.9 1104.7 256.8 1104.9 255.6 1105.0 254.4 1105.2 253.2 1105.3 252.0 1105.5 250.8 1105.7 249.6 1105.8 248.4 1106.0 247.2 1106.1 246.0 1106.3 244.8 1106.4 243.6 1106.6 242.4 1106.7 241.2 1106.9 240.0 1107.1 238.8 1107.2 237.6 1107.4 236.4 1107.5 235.2 1107.7 234.0 1107.9 232.8 1108.0 231.6 1108.2 230.4 1108.3 229.2 1108.5 228.0 1108.7 226.9 1108.8 225.7 1109.0 224.5 1109.2 223.3 1109.4 222.1 1109.5 220.9 1109.7 219.7 1109.9 218.5 1110.1 217.3 1110.2 216.1 1110.4 214.9 1110.6 213.8 1110.8 212.6 1111.0 211.4 1111.2 210.2 1111.4 209.0 1111.6 207.8 1111.8 206.7 1112.0 205.5 1112.2 204.3 1112.4 203.1 1112.6 201.9 1112.9 200.8 1113.1 199.6 1113.3 198.4 1113.6 197.2 1113.8 196.1 1114.0 194.9 1114.3 193.7 1114.5 192.5 1114.8 191.4 1115.0 190.2 1115.3 189.0 1115.6 187.9 1115.8 186.7 1116.1 185.5 1116.4 184.4 1116.7 183.2 1117.0 182.1 1117.3 180.9 1117.6 179.7 1117.9 178.6 1118.2 177.4 1118.5 176.3 1118.8 175.1 1119.2 174.0 1119.5 172.8 1119.9 171.7 1120.2 170.6 1120.6 169.4 1120.9 168.3 1121.3 167.1 1121.7 166.0 1122.1 164.9 1122.4 163.7 1122.8 162.6 1123.3 161.5 1123.7 160.3 1124.1 159.2 1124.5 158.1 1124.9 157.0 1125.4 155.8 1125.8 154.7 1126.3 153.6 1126.7 152.5 1127.2 151.4 1127.7 150.3 1128.2 149.2 1128.7 148.1 1129.2 147.0 1129.7 145.9 1130.2 144.8 1130.8 143.7 1131.3 142.6 1131.8 141.5 1132.4 140.4 1132.9 139.3 1133.5 138.3 1134.1 137.2 1134.7 136.1 1135.3 135.0 1135.9 134.0 1136.5 132.9 1137.1 131.9 1137.7 130.8 1138.3 129.8 1139.0 128.8 1139.6 127.7 1140.3 126.7 1141.0 125.7 1141.6 124.7 1142.3 123.7 1143.0 122.7 1143.7 121.7 1144.4 120.7 1145.1 119.7 1145.8 118.7 1146.5 117.7 1147.3 116.8 1148.0 115.8 1148.8 114.9 1149.5 113.9 1150.3 113.0 1151.1 112.1 1151.9 111.1 1152.7 110.2 1153.5 109.3 1154.3 108.4 1155.1 107.5 1155.9 106.7 1156.7 105.8 1157.6 104.9 1158.4 104.1 1159.3 103.2 1160.1 102.4 1161.0 101.6 1161.9 100.7 1162.8 99.9 1163.7 99.1 1164.6 98.3 1165.5 97.6 1166.4 96.8 1167.3 96.1 1168.3 95.3 1169.2 94.6 1170.2 93.9 1171.1 93.2 1172.1 92.5 1173.1 91.9 1174.1 91.2 1175.1 90.6 1176.1 90.0 1177.2 89.4 1178.2 88.9 1179.3 88.3 1180.3 87.8 1181.4 87.3 1182.5 86.9 1183.6 86.4 1184.7 86.0 1185.8 85.5 1186.9 85.2 1188.0 84.8 1189.2 84.4 1190.3 84.1 1191.4 83.8 1192.6 83.5 1193.7 83.2 1194.9 82.9 1196.1 82.7 1197.2 82.4 1198.4 82.2 1199.6 82.0 1200.8 81.8 1201.9 81.7 1203.1 81.5 1204.3 81.4 1205.5 81.2 1206.7 81.1 1207.9 81.0 1209.1 80.9 1210.3 80.8 1211.5 80.7 1212.8 80.7 1214.0 80.6 1215.2 80.6 1216.4 80.5 1217.6 80.5 1218.8 80.5 1220.1 80.4 1221.3 80.4 1222.5 80.4 1223.7 80.4 1225.0 80.4 1226.2 80.4 1227.4 80.4 1228.6 80.4 1229.9 80.4 1231.1 80.4 1232.3 80.4 1233.5 80.4 1234.7 80.4 1236.0 80.4 1237.2 80.5 1238.4 80.5 1239.6 80.5 1240.8 80.5 1242.0 80.5 1243.3 80.5 1244.5 80.5 1245.7 80.6 1246.9 80.6 1248.1 80.6 1249.3 80.6 1250.5 80.6 1251.7 80.6 1252.9 80.7 1254.2 80.7 1255.4 80.7 1256.6 80.7 1257.8 80.8 1259.0 80.8 1260.2 80.8 1261.4 80.8 1262.6 80.8 1263.8 80.9 1265.0 80.9 1266.2 80.9 1267.4 80.9 1268.6 81.0 1269.8 81.0 1271.0 81.0 1272.2 81.1 1273.4 81.1 1274.6 81.1 1275.8 81.1 1277.0 81.2 1278.2 81.2 1279.4 81.2 1280.6 81.3 1281.8 81.3 1283.0 81.3 1284.2 81.3 1285.4 81.4 1286.6 81.4 1287.8 81.4 1289.0 81.5 1290.2 81.5 1291.4 81.5 1292.6 81.6 1293.8 81.6 1295.0 81.6 1296.2 81.6 1297.4 81.7 1298.6 81.7 1299.8 81.7 1301.0 81.8 1302.2 81.8 1303.4 81.8 1304.6 81.9 1305.8 81.9 1307.0 81.9 1308.2 81.9 1309.4 82.0 1310.6 82.0 1311.7 82.0 1312.9 82.1 1314.1 82.1 1315.3 82.1 1316.5 82.1 1317.7 82.2 1318.9 82.2 1320.1 82.2 1321.3 82.2 1322.5 82.3 1323.7 82.3 1324.9 82.3 1326.1 82.3 1327.3 82.4 1328.5 82.4 1329.7 82.4 1330.9 82.4 1332.1 82.5 1333.3 82.5 1334.5 82.5 1335.7 82.5 1336.9 82.5 1338.1 82.5 1339.3 82.6 1340.5 82.6 1341.7 82.6 1342.9 82.6 1344.1 82.6 1345.3 82.6 1346.5 82.7 1347.7 82.7 1348.9 82.7 1350.1 82.7 1351.3 82.7 1352.5 82.7 1353.7 82.7 1354.9 82.7 1356.1 82.7 1357.3 82.7 1358.5 82.7 1359.7 82.7 1360.9 82.8 1362.2 82.8 1363.4 82.8 1364.6 82.8 1365.8 82.8 1367.0 82.8 1368.2 82.7 1369.4 82.7 1370.6 82.7 1371.8 82.7 1373.1 82.7 1374.3 82.7 1375.5 82.7 1376.7 82.7 1377.9 82.7 1379.1 82.7 1380.3 82.7 1381.6 82.6 1382.8 82.6 1384.0 82.6" stroke="#000" stroke-width="2" fill="none" stroke-linejoin="round"/>
<path d="M814.0 153.4L815.1 153.8 816.1 154.1 817.2 154.5 818.3 155.0 819.3 155.4 820.4 155.9 821.5 156.4 822.5 156.9 823.6 157.5 824.7 158.0 825.7 158.6 826.8 159.2 827.9 159.8 828.9 160.4 830.0 161.0 831.1 161.6 832.1 162.3 833.2 162.9 834.3 163.6 835.3 164.2 836.4 164.9 837.5 165.6 838.5 166.2 839.6 166.9 840.7 167.6 841.8 168.2 842.8 168.9 843.9 169.5 845.0 170.2 846.1 170.8 847.2 171.4 848.3 172.1 849.4 172.7 850.4 173.2 851.5 173.8 852.6 174.4 853.7 174.9 854.8 175.5 856.0 176.0 857.1 176.4 858.2 176.9 859.3 177.3 860.4 177.8 861.5 178.2 862.7 178.5 863.8 178.9 864.9 179.2 866.1 179.4 867.2 179.7 868.4 179.9 869.5 180.2 870.7 180.4 871.8 180.5 873.0 180.7 874.1 180.8 875.3 180.9 876.5 181.0 877.6 181.0 878.8 181.1 880.0 181.1 881.2 181.1 882.3 181.1 883.5 181.1 884.7 181.0 885.9 180.9 887.1 180.9 888.2 180.8 889.4 180.7 890.6 180.5 891.8 180.4 893.0 180.2 894.2 180.1 895.4 179.9 896.5 179.7 897.7 179.5 898.9 179.3 900.1 179.0 901.3 178.8 902.5 178.6 903.7 178.3 904.9 178.0 906.1 177.8 907.3 177.5 908.4 177.2 909.6 176.9 910.8 176.6 912.0 176.3 913.2 176.0 914.4 175.6 915.5 175.3 916.7 175.0 917.9 174.7 919.1 174.3 920.2 174.0 921.4 173.7 922.6 173.3 923.8 173.0 924.9 172.6 926.1 172.3 927.3 171.9 928.4 171.6 929.6 171.2 930.8 170.9 931.9 170.5 933.1 170.2 934.3 169.8 935.4 169.5 936.6 169.1 937.8 168.8 938.9 168.4 940.1 168.1 941.2 167.7 942.4 167.4 943.6 167.1 944.7 166.7 945.9 166.4 947.1 166.1 948.2 165.7 949.4 165.4 950.5 165.1 951.7 164.8 952.9 164.5 954.0 164.2 955.2 163.9 956.4 163.6 957.5 163.3 958.7 163.0 959.9 162.8 961.0 162.5 962.2 162.3 963.4 162.0 964.5 161.8 965.7 161.5 966.9 161.3 968.1 161.1 969.2 160.9 970.4 160.7 971.6 160.5 972.8 160.3 973.9 160.2 975.1 160.0 976.3 159.9 977.5 159.7 978.7 159.6 979.9 159.5 981.1 159.4 982.3 159.3 983.5 159.2 984.7 159.2 985.9 159.1 987.1 159.1 988.3 159.1 989.5 159.1 990.7 159.1 991.9 159.1 993.1 159.1 994.3 159.2 995.5 159.2 996.7 159.3 998.0 159.4 999.2 159.5 1000.4 159.6 1001.6 159.8 1002.8 159.9 1004.0 160.1 1005.2 160.3 1006.4 160.5 1007.6 160.7 1008.8 160.9 1010.0 161.2 1011.2 161.4 1012.4 161.7 1013.6 162.0 1014.8 162.3 1016.0 162.6 1017.1 162.9 1018.3 163.3 1019.5 163.7 1020.6 164.1 1021.8 164.5 1022.9 164.9 1024.0 165.3 1025.1 165.8 1026.3 166.2 1027.4 166.7 1028.5 167.2 1029.5 167.7 1030.6 168.3 1031.7 168.8 1032.7 169.4 1033.8 170.0 1034.8 170.6 1035.8 171.2 1036.8 171.8 1037.8 172.5 1038.8 173.2 1039.8 173.9 1040.8 174.6 1041.7 175.3 1042.6 176.0 1043.6 176.8 1044.5 177.6 1045.4 178.4 1046.3 179.2 1047.1 180.0 1048.0 180.8 1048.8 181.7 1049.6 182.6 1050.5 183.5 1051.3 184.4 1052.0 185.3 1052.8 186.2 1053.6 187.2 1054.3 188.1 1055.0 189.1 1055.7 190.1 1056.4 191.0 1057.1 192.0 1057.8 193.0 1058.4 194.0 1059.0 195.0 1059.7 196.1 1060.3 197.1 1060.9 198.1 1061.5 199.2 1062.0 200.2 1062.6 201.3 1063.1 202.3 1063.7 203.4 1064.2 204.5 1064.7 205.6 1065.2 206.7 1065.7 207.8 1066.2 208.9 1066.7 210.0 1067.1 211.1 1067.6 212.2 1068.0 213.3 1068.5 214.4 1068.9 215.6 1069.3 216.7 1069.8 217.8 1070.2 219.0 1070.6 220.1 1071.0 221.3 1071.3 222.4 1071.7 223.6 1072.1 224.7 1072.5 225.9 1072.8 227.1 1073.2 228.2 1073.5 229.4 1073.9 230.6 1074.2 231.7 1074.6 232.9 1074.9 234.1 1075.3 235.3 1075.6 236.4 1075.9 237.6 1076.2 238.8 1076.6 240.0 1076.9 241.2 1077.2 242.3 1077.5 243.5 1077.8 244.7 1078.1 245.9 1078.5 247.1 1078.8 248.2 1079.1 249.4 1079.4 250.6 1079.7 251.8 1080.0 252.9 1080.4 254.1 1080.7 255.3 1081.0 256.4 1081.3 257.6 1081.6 258.7 1082.0 259.9 1082.3 261.1 1082.6 262.2 1083.0 263.4 1083.3 264.5 1083.6 265.6 1084.0 266.8 1084.3 267.9 1084.7 269.0 1085.1 270.2 1085.4 271.3 1085.8 272.4 1086.1 271.2 1086.3 270.1 1086.6 268.9 1086.9 267.7 1087.2 266.6 1087.4 265.4 1087.7 264.3 1088.0 263.1 1088.3 261.9 1088.5 260.7 1088.8 259.6 1089.1 258.4 1089.3 257.2 1089.6 256.1 1089.9 254.9 1090.2 253.7 1090.4 252.6 1090.7 251.4 1091.0 250.2 1091.3 249.0 1091.5 247.9 1091.8 246.7 1092.1 245.5 1092.4 244.3 1092.6 243.2 1092.9 242.0 1093.2 240.8 1093.5 239.7 1093.8 238.5 1094.0 237.3 1094.3 236.1 1094.6 235.0 1094.9 233.8 1095.2 232.6 1095.5 231.4 1095.7 230.3 1096.0 229.1 1096.3 227.9 1096.6 226.7 1096.9 225.6 1097.2 224.4 1097.5 223.2 1097.8 222.0 1098.1 220.9 1098.4 219.7 1098.7 218.5 1099.0 217.4 1099.3 216.2 1099.6 215.0 1099.9 213.8 1100.2 212.7 1100.5 211.5 1100.8 210.3 1101.1 209.2 1101.4 208.0 1101.7 206.8 1102.0 205.7 1102.4 204.5 1102.7 203.3 1103.0 202.2 1103.3 201.0 1103.6 199.9 1104.0 198.7 1104.3 197.5 1104.6 196.4 1105.0 195.2 1105.3 194.1 1105.6 192.9 1106.0 191.8 1106.3 190.6 1106.7 189.4 1107.0 188.3 1107.4 187.1 1107.7 186.0 1108.1 184.8 1108.4 183.7 1108.8 182.6 1109.1 181.4 1109.5 180.3 1109.9 179.1 1110.2 178.0 1110.6 176.8 1111.0 175.7 1111.4 174.6 1111.7 173.4 1112.1 172.3 1112.5 171.2 1112.9 170.0 1113.3 168.9 1113.7 167.8 1114.1 166.7 1114.5 165.5 1114.9 164.4 1115.3 163.3 1115.7 162.2 1116.1 161.1 1116.5 159.9 1116.9 158.8 1117.4 157.7 1117.8 156.6 1118.2 155.5 1118.6 154.4 1119.1 153.3 1119.5 152.2 1120.0 151.1 1120.4 150.0 1120.8 148.9 1121.3 147.8 1121.8 146.7 1122.2 145.6 1122.7 144.5 1123.1 143.4 1123.6 142.3 1124.1 141.2 1124.6 140.1 1125.0 139.0 1125.5 137.9 1126.0 136.8 1126.5 135.7 1127.0 134.6 1127.5 133.5 1128.0 132.4 1128.5 131.3 1129.0 130.2 1129.6 129.1 1130.1 128.1 1130.6 127.0 1131.1 125.9 1131.7 124.8 1132.2 123.7 1132.7 122.6 1133.3 121.5 1133.8 120.4 1134.4 119.3 1134.9 118.3 1135.5 117.2 1136.1 116.1 1136.6 115.0 1137.2 113.9 1137.8 112.8 1138.4 111.7 1139.0 110.6 1139.6 109.5 1140.2 108.5 1140.8 107.4 1141.4 106.3 1142.0 105.2 1142.6 104.1 1143.2 103.0 1143.9 102.0 1144.5 100.9 1145.2 99.8 1145.8 98.8 1146.5 97.7 1147.1 96.7 1147.8 95.7 1148.5 94.7 1149.2 93.6 1149.9 92.6 1150.6 91.7 1151.4 90.7 1152.1 89.7 1152.9 88.8 1153.6 87.8 1154.4 86.9 1155.2 86.0 1156.0 85.1 1156.8 84.2 1157.6 83.4 1158.4 82.5 1159.3 81.7 1160.1 80.9 1161.0 80.1 1161.9 79.3 1162.8 78.5 1163.7 77.8 1164.6 77.1 1165.5 76.3 1166.4 75.6 1167.3 74.9 1168.3 74.2 1169.2 73.6 1170.2 72.9 1171.2 72.3 1172.1 71.6 1173.1 71.0 1174.1 70.4 1175.1 69.8 1176.2 69.2 1177.2 68.6 1178.2 68.1 1179.2 67.5 1180.3 67.0 1181.3 66.5 1182.4 66.0 1183.5 65.5 1184.5 65.0 1185.6 64.5 1186.7 64.1 1187.8 63.6 1188.9 63.2 1190.0 62.7 1191.1 62.3 1192.2 61.9 1193.4 61.5 1194.5 61.1 1195.6 60.7 1196.8 60.3 1197.9 60.0 1199.0 59.6 1200.2 59.3 1201.4 58.9 1202.5 58.6 1203.7 58.3 1204.9 58.0 1206.0 57.7 1207.2 57.4 1208.4 57.1 1209.6 56.8 1210.8 56.6 1211.9 56.3 1213.1 56.0 1214.3 55.8 1215.5 55.6 1216.7 55.3 1217.9 55.1 1219.1 54.9 1220.3 54.7 1221.5 54.5 1222.8 54.3 1224.0 54.1 1225.2 53.9 1226.4 53.7 1227.6 53.6 1228.8 53.4 1230.0 53.2 1231.2 53.1 1232.5 52.9 1233.7 52.8 1234.9 52.6 1236.1 52.5 1237.3 52.4 1238.5 52.2 1239.7 52.1 1241.0 52.0 1242.2 51.9 1243.4 51.8 1244.6 51.7 1245.8 51.6 1247.0 51.5 1248.2 51.4 1249.4 51.3 1250.6 51.2 1251.8 51.1 1253.0 51.1 1254.3 51.0 1255.5 50.9 1256.7 50.9 1257.9 50.8 1259.1 50.7 1260.3 50.7 1261.5 50.6 1262.7 50.6 1263.9 50.5 1265.1 50.5 1266.3 50.4 1267.5 50.4 1268.7 50.4 1269.9 50.3 1271.1 50.3 1272.3 50.3 1273.5 50.3 1274.7 50.2 1275.9 50.2 1277.1 50.2 1278.3 50.2 1279.5 50.2 1280.6 50.2 1281.8 50.2 1283.0 50.2 1284.2 50.2 1285.4 50.2 1286.6 50.2 1287.8 50.2 1289.0 50.2 1290.2 50.2 1291.4 50.2 1292.6 50.2 1293.8 50.2 1295.0 50.2 1296.2 50.2 1297.4 50.2 1298.6 50.2 1299.8 50.3 1300.9 50.3 1302.1 50.3 1303.3 50.3 1304.5 50.3 1305.7 50.3 1306.9 50.4 1308.1 50.4 1309.3 50.4 1310.5 50.4 1311.7 50.5 1312.9 50.5 1314.1 50.5 1315.3 50.5 1316.5 50.6 1317.7 50.6 1318.9 50.6 1320.1 50.6 1321.2 50.7 1322.4 50.7 1323.6 50.7 1324.8 50.7 1326.0 50.7 1327.2 50.8 1328.4 50.8 1329.6 50.8 1330.8 50.8 1332.0 50.9 1333.2 50.9 1334.4 50.9 1335.6 50.9 1336.8 50.9 1338.0 50.9 1339.2 51.0 1340.4 51.0 1341.6 51.0 1342.8 51.0 1344.0 51.0 1345.2 51.0 1346.4 51.0 1347.6 51.0 1348.8 51.0 1350.0 51.0 1351.2 51.0 1352.4 51.0 1353.6 51.0 1354.8 51.0 1356.0 51.0 1357.3 51.0 1358.5 51.0 1359.7 51.0 1360.9 51.0 1362.1 50.9 1363.3 50.9 1364.5 50.9 1365.7 50.9 1366.9 50.8 1368.2 50.8 1369.4 50.8 1370.6 50.7 1371.8 50.7 1373.0 50.6 1374.2 50.6 1375.4 50.5 1376.7 50.5 1377.9 50.4 1379.1 50.4 1380.3 50.3 1381.6 50.2 1382.8 50.2 1384.0 50.1" stroke="#000" stroke-width="2" fill="none" stroke-linejoin="round"/>
<path d="M814.0 60.4L815.2 60.7 816.4 60.9 817.5 61.2 818.7 61.4 819.9 61.7 821.1 62.0 822.3 62.2 823.5 62.5 824.6 62.7 825.8 63.0 827.0 63.3 828.2 63.5 829.4 63.8 830.5 64.0 831.7 64.3 832.9 64.5 834.1 64.8 835.3 65.0 836.4 65.3 837.6 65.5 838.8 65.8 840.0 66.0 841.2 66.3 842.3 66.5 843.5 66.8 844.7 67.0 845.9 67.3 847.1 67.5 848.2 67.8 849.4 68.0 850.6 68.3 851.8 68.5 852.9 68.8 854.1 69.0 855.3 69.3 856.5 69.5 857.7 69.8 858.8 70.0 860.0 70.3 861.2 70.5 862.4 70.8 863.5 71.0 864.7 71.3 865.9 71.5 867.1 71.8 868.2 72.0 869.4 72.3 870.6 72.5 871.8 72.8 872.9 73.0 874.1 73.3 875.3 73.5 876.5 73.8 877.6 74.0 878.8 74.3 880.0 74.5 881.2 74.8 882.3 75.1 883.5 75.3 884.7 75.6 885.8 75.8 887.0 76.1 888.2 76.3 889.4 76.6 890.5 76.9 891.7 77.1 892.9 77.4 894.1 77.7 895.2 77.9 896.4 78.2 897.6 78.5 898.7 78.7 899.9 79.0 901.1 79.3 902.2 79.5 903.4 79.8 904.6 80.1 905.8 80.3 906.9 80.6 908.1 80.9 909.3 81.2 910.4 81.4 911.6 81.7 912.8 82.0 913.9 82.3 915.1 82.6 916.3 82.9 917.4 83.1 918.6 83.4 919.8 83.7 920.9 84.0 922.1 84.3 923.3 84.6 924.4 84.9 925.6 85.2 926.8 85.5 927.9 85.8 929.1 86.1 930.3 86.4 931.4 86.7 932.6 87.0 933.8 87.3 934.9 87.6 936.1 87.9 937.3 88.2 938.4 88.5 939.6 88.9 940.8 89.2 941.9 89.5 943.1 89.8 944.2 90.2 945.4 90.5 946.6 90.8 947.7 91.2 948.9 91.5 950.1 91.8 951.2 92.2 952.4 92.5 953.5 92.9 954.7 93.2 955.8 93.6 957.0 93.9 958.1 94.3 959.3 94.7 960.4 95.1 961.6 95.4 962.7 95.8 963.9 96.2 965.0 96.6 966.2 97.0 967.3 97.4 968.5 97.8 969.6 98.2 970.7 98.6 971.9 99.0 973.0 99.4 974.2 99.9 975.3 100.3 976.4 100.7 977.5 101.2 978.7 101.6 979.8 102.1 980.9 102.5 982.0 103.0 983.2 103.5 984.3 104.0 985.4 104.4 986.5 104.9 987.6 105.4 988.7 105.9 989.8 106.4 991.0 106.9 992.1 107.5 993.2 108.0 994.3 108.5 995.3 109.1 996.4 109.6 997.5 110.2 998.6 110.7 999.7 111.3 1000.8 111.9 1001.8 112.4 1002.9 113.0 1004.0 113.6 1005.0 114.2 1006.1 114.8 1007.2 115.4 1008.2 116.0 1009.3 116.7 1010.3 117.3 1011.4 117.9 1012.4 118.5 1013.4 119.2 1014.4 119.8 1015.5 120.5 1016.5 121.2 1017.5 121.8 1018.5 122.5 1019.5 123.2 1020.5 123.9 1021.5 124.6 1022.5 125.3 1023.5 126.0 1024.5 126.7 1025.4 127.4 1026.4 128.2 1027.3 128.9 1028.3 129.6 1029.3 130.4 1030.2 131.1 1031.1 131.9 1032.1 132.6 1033.0 133.4 1033.9 134.2 1034.8 135.0 1035.7 135.8 1036.6 136.6 1037.5 137.4 1038.4 138.2 1039.3 139.0 1040.1 139.8 1041.0 140.6 1041.8 141.5 1042.7 142.3 1043.5 143.1 1044.4 144.0 1045.2 144.9 1046.0 145.7 1046.8 146.6 1047.6 147.5 1048.4 148.4 1049.2 149.2 1050.0 150.1 1050.7 151.0 1051.5 151.9 1052.3 152.9 1053.0 153.8 1053.7 154.7 1054.5 155.6 1055.2 156.6 1055.9 157.5 1056.6 158.5 1057.3 159.4 1058.0 160.4 1058.6 161.4 1059.3 162.3 1059.9 163.3 1060.6 164.3 1061.2 165.3 1061.8 166.3 1062.5 167.3 1063.1 168.3 1063.7 169.4 1064.2 170.4 1064.8 171.4 1065.4 172.5 1065.9 173.5 1066.5 174.6 1067.0 175.6 1067.5 176.7 1068.0 177.7 1068.5 178.8 1069.0 179.9 1069.5 181.0 1070.0 182.1 1070.5 183.2 1070.9 184.3 1071.4 185.4 1071.8 186.5 1072.3 187.6 1072.7 188.7 1073.1 189.8 1073.5 191.0 1073.9 192.1 1074.3 193.2 1074.7 194.4 1075.0 195.5 1075.4 196.7 1075.8 197.8 1076.1 199.0 1076.5 200.1 1076.8 201.3 1077.1 202.5 1077.5 203.6 1077.8 204.8 1078.1 206.0 1078.4 207.1 1078.7 208.3 1079.0 209.5 1079.3 210.7 1079.5 211.9 1079.8 213.1 1080.1 214.3 1080.3 215.5 1080.6 216.7 1080.8 217.9 1081.1 219.1 1081.3 220.3 1081.5 221.5 1081.8 222.7 1082.0 223.9 1082.2 225.1 1082.4 226.3 1082.6 227.5 1082.8 228.7 1083.0 229.9 1083.2 231.2 1083.4 232.4 1083.6 233.6 1083.7 234.8 1083.9 236.0 1084.1 237.2 1084.2 238.5 1084.4 239.7 1084.5 240.9 1084.7 242.1 1084.9 243.3 1085.0 244.5 1085.1 245.8 1085.3 247.0 1085.4 248.2 1085.5 249.4 1085.7 250.6 1085.8 251.8 1085.9 253.0 1086.1 254.3 1086.2 255.5 1086.3 256.7 1086.4 257.9 1086.5 259.1 1086.6 260.3 1086.8 261.5 1086.9 262.7 1087.0 263.9 1087.1 265.1 1087.2 266.3 1087.3 267.6 1087.4 268.8 1087.5 270.0 1087.6 271.2 1087.8 272.4 1087.9 273.6 1088.0 274.8 1088.1 276.0 1088.2 277.2 1088.3 278.4 1088.4 279.6 1088.5 280.8 1088.7 282.0 1088.8 283.2 1088.9 284.3 1089.0 285.5 1089.1 286.7 1089.3 287.9 1089.4 289.1 1089.5 290.3 1089.7 291.5 1089.8 292.7 1089.9 293.9 1090.1 295.0 1090.2 296.2 1090.4 297.4 1090.6 298.6 1090.7 299.8 1090.9 300.9 1091.0 302.1 1091.2 303.3 1091.4 304.5 1091.6 305.6 1091.8 306.8 1092.0 308.0 1092.2 309.2 1092.4 310.3 1092.6 311.5 1092.8 312.6 1093.0 313.8 1093.2 315.0 1093.5 316.1 1093.7 317.3 1094.2 316.2 1094.6 315.1 1095.1 313.9 1095.5 312.8 1095.9 311.7 1096.3 310.5 1096.7 309.4 1097.0 308.3 1097.4 307.1 1097.7 306.0 1098.0 304.8 1098.4 303.6 1098.7 302.5 1099.0 301.3 1099.2 300.1 1099.5 299.0 1099.8 297.8 1100.0 296.6 1100.3 295.4 1100.5 294.2 1100.7 293.1 1100.9 291.9 1101.1 290.7 1101.3 289.5 1101.5 288.3 1101.7 287.1 1101.9 285.9 1102.1 284.7 1102.3 283.5 1102.5 282.3 1102.6 281.1 1102.8 279.9 1103.0 278.7 1103.1 277.5 1103.3 276.3 1103.4 275.1 1103.6 273.9 1103.7 272.7 1103.9 271.5 1104.0 270.3 1104.2 269.1 1104.3 267.9 1104.5 266.7 1104.6 265.5 1104.8 264.3 1104.9 263.1 1105.1 261.9 1105.2 260.7 1105.4 259.5 1105.5 258.3 1105.7 257.1 1105.8 255.9 1106.0 254.7 1106.1 253.5 1106.3 252.3 1106.4 251.1 1106.6 249.9 1106.7 248.7 1106.9 247.5 1107.0 246.3 1107.2 245.1 1107.3 243.9 1107.5 242.7 1107.6 241.5 1107.8 240.3 1107.9 239.1 1108.1 237.9 1108.2 236.7 1108.4 235.5 1108.6 234.3 1108.7 233.1 1108.9 231.9 1109.1 230.7 1109.2 229.5 1109.4 228.3 1109.6 227.1 1109.8 225.9 1110.0 224.7 1110.1 223.5 1110.3 222.3 1110.5 221.1 1110.7 219.9 1110.9 218.7 1111.1 217.5 1111.3 216.3 1111.5 215.1 1111.7 214.0 1111.9 212.8 1112.1 211.6 1112.3 210.4 1112.6 209.2 1112.8 208.0 1113.0 206.8 1113.3 205.6 1113.5 204.4 1113.7 203.2 1114.0 202.0 1114.2 200.8 1114.5 199.6 1114.8 198.5 1115.0 197.3 1115.3 196.1 1115.6 194.9 1115.8 193.7 1116.1 192.5 1116.4 191.3 1116.7 190.1 1117.0 189.0 1117.3 187.8 1117.6 186.6 1118.0 185.4 1118.3 184.2 1118.6 183.0 1118.9 181.9 1119.3 180.7 1119.6 179.5 1120.0 178.3 1120.4 177.2 1120.7 176.0 1121.1 174.8 1121.5 173.7 1121.9 172.5 1122.3 171.4 1122.7 170.2 1123.1 169.1 1123.5 167.9 1123.9 166.8 1124.4 165.6 1124.8 164.5 1125.3 163.4 1125.8 162.2 1126.2 161.1 1126.7 160.0 1127.2 158.9 1127.7 157.8 1128.2 156.7 1128.7 155.6 1129.3 154.5 1129.8 153.5 1130.3 152.4 1130.9 151.3 1131.5 150.3 1132.0 149.2 1132.6 148.2 1133.2 147.1 1133.8 146.1 1134.5 145.1 1135.1 144.1 1135.7 143.1 1136.4 142.1 1137.1 141.1 1137.7 140.1 1138.4 139.1 1139.1 138.2 1139.8 137.2 1140.6 136.3 1141.3 135.4 1142.1 134.4 1142.8 133.5 1143.6 132.6 1144.4 131.7 1145.2 130.9 1146.0 130.0 1146.8 129.1 1147.7 128.3 1148.5 127.4 1149.4 126.6 1150.3 125.8 1151.2 125.0 1152.1 124.2 1153.0 123.5 1154.0 122.7 1154.9 121.9 1155.9 121.2 1156.9 120.5 1157.9 119.8 1158.9 119.1 1159.9 118.4 1161.0 117.7 1162.0 117.1 1163.1 116.4 1164.2 115.8 1165.3 115.2" stroke="#000" stroke-width="2.2" stroke-dasharray="3 6" fill="none"/>
<path d="M814.0 146.4L815.2 146.6 816.3 146.8 817.5 147.1 818.7 147.3 819.8 147.6 820.9 148.0 822.1 148.3 823.2 148.7 824.3 149.1 825.5 149.5 826.6 149.9 827.7 150.3 828.8 150.8 829.9 151.3 831.0 151.7 832.1 152.2 833.2 152.7 834.3 153.3 835.4 153.8 836.5 154.3 837.6 154.8 838.7 155.4 839.8 155.9 840.9 156.5 842.0 157.0 843.1 157.6 844.1 158.1 845.2 158.7 846.3 159.2 847.4 159.8 848.5 160.3 849.6 160.8 850.7 161.4 851.8 161.9 852.9 162.4 854.0 162.9 855.1 163.4 856.2 163.8 857.3 164.3 858.5 164.7 859.6 165.1 860.7 165.5 861.8 165.9 863.0 166.3 864.1 166.7 865.3 167.0 866.4 167.3 867.6 167.6 868.7 167.9 869.9 168.1 871.1 168.4 872.2 168.6 873.4 168.8 874.6 169.0 875.8 169.2 876.9 169.4 878.1 169.5 879.3 169.7 880.5 169.8 881.7 169.9 882.9 170.0 884.1 170.1 885.3 170.1 886.5 170.2 887.7 170.2 888.9 170.3 890.1 170.3 891.3 170.3 892.5 170.3 893.7 170.3 894.9 170.3 896.1 170.3 897.3 170.2 898.5 170.2 899.7 170.1 900.9 170.0 902.1 170.0 903.3 169.9 904.5 169.8 905.7 169.7 906.9 169.6 908.1 169.5 909.3 169.3 910.5 169.2 911.7 169.1 912.9 169.0 914.1 168.8 915.3 168.7 916.5 168.5 917.7 168.4 918.9 168.2 920.1 168.0 921.3 167.9 922.5 167.7 923.7 167.5 924.9 167.3 926.1 167.2 927.3 167.0 928.5 166.8 929.7 166.6 930.9 166.4 932.1 166.2 933.3 166.0 934.5 165.9 935.6 165.7 936.8 165.5 938.0 165.3 939.2 165.1 940.4 164.9 941.6 164.8 942.8 164.6 944.0 164.4 945.2 164.2 946.4 164.1 947.6 163.9 948.8 163.7 949.9 163.6 951.1 163.4 952.3 163.2 953.5 163.1 954.7 163.0 955.9 162.8 957.1 162.7 958.3 162.6 959.5 162.4 960.7 162.3 961.9 162.2 963.0 162.1 964.2 162.0 965.4 161.9 966.6 161.9 967.8 161.8 969.0 161.7 970.2 161.7 971.4 161.7 972.6 161.6 973.8 161.6 975.0 161.6 976.2 161.6 977.3 161.6 978.5 161.6 979.7 161.7 980.9 161.7 982.1 161.8 983.3 161.8 984.5 161.9 985.7 162.0 986.9 162.1 988.1 162.2 989.3 162.4 990.5 162.5 991.7 162.7 992.9 162.9 994.0 163.0 995.2 163.2 996.4 163.5 997.6 163.7 998.8 163.9 999.9 164.2 1001.1 164.5 1002.3 164.8 1003.4 165.1 1004.6 165.4 1005.8 165.7 1006.9 166.1 1008.1 166.5 1009.2 166.8 1010.3 167.3 1011.5 167.7 1012.6 168.1 1013.7 168.6 1014.8 169.0 1015.9 169.5 1017.0 170.0 1018.1 170.5 1019.2 171.1 1020.3 171.6 1021.3 172.2 1022.4 172.8 1023.4 173.4 1024.5 174.1 1025.5 174.7 1026.5 175.4 1027.6 176.1 1028.6 176.8 1029.6 177.5 1030.5 178.2 1031.5 179.0 1032.5 179.8 1033.5 180.5 1034.5 181.3 1035.4 182.1 1036.4 182.9 1037.4 183.7 1038.3 184.5 1039.3 185.3 1040.3 186.1 1041.3 186.9 1042.3 187.6 1043.3 188.4 1044.3 189.2 1045.3 189.9 1046.3 190.7 1047.3 191.4 1048.3 192.1 1049.4 192.8 1050.4 193.4 1051.5 194.0 1052.5 194.6 1053.5 195.1 1054.6 195.6 1055.6 196.0 1056.6 196.4 1057.7 196.7 1058.7 196.9 1059.7 197.1 1060.7 197.2 1061.7 197.2 1062.7 197.2 1063.6 197.1 1064.6 196.9 1065.5 196.6 1066.4 196.2 1067.3 195.8 1068.2 195.4 1069.1 194.8 1070.0 194.2 1070.8 193.6 1071.7 192.9 1072.5 192.1 1073.3 191.3 1074.1 190.5 1074.9 189.6 1075.7 188.7 1076.5 187.8 1077.2 186.8 1077.9 185.8 1078.7 184.8 1079.4 183.7 1080.1 182.7 1080.7 181.6 1081.4 180.5 1082.1 179.4 1082.7 178.4 1083.3 177.3 1084.0 176.2 1084.6 175.1 1085.2 174.0 1085.7 172.9 1086.3 171.8 1086.9 170.7 1087.4 169.7 1088.0 168.6 1088.5 167.5 1089.0 166.4 1089.6 165.3 1090.1 164.2 1090.6 163.2 1091.1 162.1 1091.6 161.0 1092.1 159.9 1092.6 158.8 1093.1 157.7 1093.6 156.7 1094.0 155.6 1094.5 154.5 1095.0 153.4 1095.5 152.3 1096.0 151.2 1096.5 150.2 1097.0 149.1 1097.5 148.0 1098.0 146.9 1098.5 145.8 1099.0 144.8 1099.5 143.7 1100.0 142.6 1100.5 141.5 1101.1 140.4 1101.6 139.4 1102.1 138.3 1102.7 137.2 1103.2 136.1 1103.8 135.1 1104.4 134.0 1104.9 132.9 1105.5 131.8 1106.1 130.8 1106.7 129.7 1107.2 128.7 1107.8 127.6 1108.4 126.5 1109.0 125.5 1109.7 124.4 1110.3 123.4 1110.9 122.3 1111.5 121.3 1112.2 120.3 1112.8 119.2 1113.4 118.2 1114.1 117.2 1114.7 116.1 1115.4 115.1 1116.1 114.1 1116.8 113.1 1117.4 112.1 1118.1 111.1 1118.8 110.1 1119.5 109.1 1120.2 108.1 1120.9 107.1 1121.7 106.2 1122.4 105.2 1123.1 104.2 1123.9 103.3 1124.6 102.3 1125.4 101.4 1126.1 100.4 1126.9 99.5 1127.7 98.6 1128.5 97.7 1129.2 96.7 1130.0 95.8 1130.8 94.9 1131.7 94.0 1132.5 93.2 1133.3 92.3 1134.1 91.4 1135.0 90.6 1135.8 89.7 1136.7 88.9 1137.5 88.0 1138.4 87.2 1139.3 86.4 1140.1 85.6 1141.0 84.8 1141.9 84.0 1142.8 83.2 1143.7 82.5 1144.7 81.7 1145.6 81.0 1146.5 80.2 1147.5 79.5 1148.4 78.8 1149.4 78.1 1150.3 77.4 1151.3 76.7 1152.3 76.0 1153.3 75.3 1154.3 74.7 1155.2 74.0 1156.3 73.4 1157.3 72.7 1158.3 72.1 1159.3 71.5 1160.3 70.9 1161.4 70.3 1162.4 69.7 1163.5 69.2 1164.5 68.6 1165.6 68.0 1166.6 67.5 1167.7 66.9 1168.8 66.4 1169.9 65.9 1170.9 65.4 1172.0 64.9 1173.1 64.4 1174.2 63.9 1175.3 63.4 1176.4 62.9 1177.5 62.5 1178.6 62.0 1179.8 61.6 1180.9 61.1 1182.0 60.7 1183.1 60.3 1184.3 59.9 1185.4 59.5 1186.5 59.1 1187.7 58.7 1188.8 58.3 1190.0 58.0 1191.1 57.6 1192.3 57.2 1193.4 56.9 1194.6 56.6 1195.8 56.2 1196.9 55.9 1198.1 55.6 1199.3 55.3 1200.4 55.0 1201.6 54.7 1202.8 54.4 1203.9 54.1 1205.1 53.9 1206.3 53.6 1207.5 53.3 1208.7 53.1 1209.8 52.9 1211.0 52.6 1212.2 52.4 1213.4 52.2 1214.6 52.0 1215.8 51.8 1216.9 51.6 1218.1 51.4 1219.3 51.2 1220.5 51.0 1221.7 50.8 1222.9 50.7 1224.1 50.5 1225.3 50.4 1226.4 50.2 1227.6 50.1 1228.8 49.9 1230.0 49.8 1231.2 49.7 1232.4 49.6 1233.6 49.5 1234.8 49.4 1236.0 49.3 1237.2 49.2 1238.4 49.1 1239.6 49.0 1240.8 48.9 1242.0 48.8 1243.2 48.8 1244.4 48.7 1245.6 48.6 1246.8 48.6 1248.0 48.5 1249.2 48.5 1250.4 48.4 1251.6 48.4 1252.8 48.3 1254.0 48.3 1255.2 48.3 1256.4 48.3 1257.6 48.2 1258.8 48.2 1260.0 48.2 1261.2 48.2 1262.4 48.2 1263.6 48.2 1264.8 48.2 1266.0 48.2 1267.2 48.2 1268.4 48.2 1269.6 48.2 1270.8 48.2 1272.1 48.2 1273.3 48.3 1274.5 48.3 1275.7 48.3 1276.9 48.3 1278.1 48.4 1279.3 48.4 1280.5 48.4 1281.7 48.5 1282.9 48.5 1284.1 48.5 1285.3 48.6 1286.6 48.6 1287.8 48.6 1289.0 48.7 1290.2 48.7 1291.4 48.8 1292.6 48.8 1293.8 48.9 1295.0 48.9 1296.2 49.0 1297.4 49.0 1298.7 49.1 1299.9 49.1 1301.1 49.2 1302.3 49.2 1303.5 49.3 1304.7 49.3 1305.9 49.4 1307.1 49.4 1308.3 49.5 1309.5 49.5 1310.8 49.6 1312.0 49.6 1313.2 49.7 1314.4 49.7 1315.6 49.8 1316.8 49.8 1318.0 49.9 1319.2 49.9 1320.4 50.0 1321.6 50.0 1322.9 50.1 1324.1 50.1 1325.3 50.2 1326.5 50.2 1327.7 50.2 1328.9 50.3 1330.1 50.3 1331.3 50.3 1332.5 50.4 1333.7 50.4 1334.9 50.4 1336.1 50.5 1337.3 50.5 1338.5 50.5 1339.7 50.5 1341.0 50.5 1342.2 50.5 1343.4 50.6 1344.6 50.6 1345.8 50.6 1347.0 50.6 1348.2 50.6 1349.4 50.6 1350.6 50.5 1351.8 50.5 1353.0 50.5 1354.2 50.5 1355.4 50.5 1356.6 50.5 1357.8 50.4 1359.0 50.4 1360.2 50.3 1361.4 50.3 1362.6 50.3 1363.8 50.2 1365.0 50.2 1366.1 50.1 1367.3 50.0 1368.5 50.0 1369.7 49.9 1370.9 49.8 1372.1 49.7 1373.3 49.6 1374.5 49.5 1375.7 49.4 1376.9 49.3 1378.1 49.2 1379.3 49.1 1380.4 49.0 1381.6 48.9 1382.8 48.7 1384.0 48.6" stroke="#000" stroke-width="2.2" stroke-dasharray="3 6" fill="none"/>
<path d="M1163.87 115.66L1166.73 114.74M1172.50 110.34L1175.10 108.86M1181.20 105.24L1184.20 105.36M1189.93 110.58L1192.87 110.02M1197.40 103.05L1200.00 101.55M1206.23 100.62L1209.17 101.18M1214.61 105.41L1217.59 105.79M1224.01 103.40L1226.99 103.00M1232.48 102.71L1235.32 103.69M1241.30 109.28L1244.30 109.12M1248.60 102.39L1251.60 102.21M1257.20 107.40L1259.60 109.20M1265.40 114.84L1268.40 114.76M1273.75 108.29L1276.65 107.51M1282.85 109.46L1285.55 110.74M1291.64 116.05L1294.56 116.75M1298.86 114.58L1301.54 113.22M1304.75 109.32L1307.65 110.08M1311.70 116.75L1314.50 117.85M1320.53 116.21L1323.47 115.59M1329.42 113.28L1332.38 113.72M1338.44 117.97L1341.16 119.23M1347.28 122.18L1350.12 121.22M1352.64 115.05L1354.56 112.75M1357.09 109.27L1359.71 110.73M1361.48 117.80L1363.52 120.00M1368.21 122.00L1371.19 122.40M1376.50 121.10L1379.50 120.90" stroke="#000" stroke-width="2.2" fill="none"/>
</g>
<path d="M118.88 14v9.5M118.88 340v-9.5M137.75 14v9.5M137.75 340v-9.5M156.63 14v9.5M156.63 340v-9.5M175.51 14v9.5M175.51 340v-9.5M194.38 14v19M194.38 340v-19M213.26 14v9.5M213.26 340v-9.5M232.14 14v9.5M232.14 340v-9.5M251.01 14v9.5M251.01 340v-9.5M269.89 14v9.5M269.89 340v-9.5M288.77 14v19M288.77 340v-19M307.64 14v9.5M307.64 340v-9.5M326.52 14v9.5M326.52 340v-9.5M345.40 14v9.5M345.40 340v-9.5M364.27 14v9.5M364.27 340v-9.5M383.15 14v19M383.15 340v-19M402.03 14v9.5M402.03 340v-9.5M420.90 14v9.5M420.90 340v-9.5M439.78 14v9.5M439.78 340v-9.5M458.66 14v9.5M458.66 340v-9.5M477.53 14v19M477.53 340v-19M496.41 14v9.5M496.41 340v-9.5M515.29 14v9.5M515.29 340v-9.5M534.16 14v9.5M534.16 340v-9.5M553.04 14v9.5M553.04 340v-9.5M571.92 14v19M571.92 340v-19M590.79 14v9.5M590.79 340v-9.5M609.67 14v9.5M609.67 340v-9.5M628.55 14v9.5M628.55 340v-9.5M647.42 14v9.5M647.42 340v-9.5M100 24.87h9.5M666.3 24.87h-9.5M100 35.73h9.5M666.3 35.73h-9.5M100 46.60h9.5M666.3 46.60h-9.5M100 57.47h9.5M666.3 57.47h-9.5M100 68.33h19M666.3 68.33h-19M100 79.20h9.5M666.3 79.20h-9.5M100 90.07h9.5M666.3 90.07h-9.5M100 100.93h9.5M666.3 100.93h-9.5M100 111.80h9.5M666.3 111.80h-9.5M100 122.67h19M666.3 122.67h-19M100 133.53h9.5M666.3 133.53h-9.5M100 144.40h9.5M666.3 144.40h-9.5M100 155.27h9.5M666.3 155.27h-9.5M100 166.13h9.5M666.3 166.13h-9.5M100 177.00h19M666.3 177.00h-19M100 187.87h9.5M666.3 187.87h-9.5M100 198.73h9.5M666.3 198.73h-9.5M100 209.60h9.5M666.3 209.60h-9.5M100 220.47h9.5M666.3 220.47h-9.5M100 231.33h19M666.3 231.33h-19M100 242.20h9.5M666.3 242.20h-9.5M100 253.07h9.5M666.3 253.07h-9.5M100 263.93h9.5M666.3 263.93h-9.5M100 274.80h9.5M666.3 274.80h-9.5M100 285.67h19M666.3 285.67h-19M100 296.53h9.5M666.3 296.53h-9.5M100 307.40h9.5M666.3 307.40h-9.5M100 318.27h9.5M666.3 318.27h-9.5M100 329.13h9.5M666.3 329.13h-9.5" stroke="#000" stroke-width="2" fill="none"/>
<rect x="100" y="14" width="566.30" height="326" stroke="#000" stroke-width="2.1" fill="none" stroke-linejoin="round"/>
<text transform="translate(78 21.70) scale(1 1.07)" text-anchor="end" class="t">0</text>
<text transform="translate(78 76.20) scale(1 1.07)" text-anchor="end" class="t">-5</text>
<text transform="translate(78 130.70) scale(1 1.07)" text-anchor="end" class="t">-10</text>
<text transform="translate(78 185.20) scale(1 1.07)" text-anchor="end" class="t">-15</text>
<text transform="translate(78 239.70) scale(1 1.07)" text-anchor="end" class="t">-20</text>
<text transform="translate(78 294.20) scale(1 1.07)" text-anchor="end" class="t">-25</text>
<text transform="translate(78 348.70) scale(1 1.07)" text-anchor="end" class="t">-30</text>
<text transform="translate(100.00 382.3) scale(1 1.07)" text-anchor="middle" class="t">1,0</text>
<text transform="translate(194.38 382.3) scale(1 1.07)" text-anchor="middle" class="t">1,5</text>
<text transform="translate(288.77 382.3) scale(1 1.07)" text-anchor="middle" class="t">2,0</text>
<text transform="translate(383.15 382.3) scale(1 1.07)" text-anchor="middle" class="t">2,5</text>
<text transform="translate(477.53 382.3) scale(1 1.07)" text-anchor="middle" class="t">3,0</text>
<text transform="translate(571.92 382.3) scale(1 1.07)" text-anchor="middle" class="t">3,5</text>
<text transform="translate(666.30 382.3) scale(1 1.07)" text-anchor="middle" class="t">4,0</text>
<text transform="translate(383.6 413.6) scale(1.005 1.04)" text-anchor="middle" class="a">Frequency (GHz)</text>
<text transform="translate(20.7 175.4) rotate(-90) scale(0.993 1.02)" text-anchor="middle" class="a">Magnitude (dB)</text>
<path d="M832.66 14v9.5M832.66 340v-9.5M851.53 14v9.5M851.53 340v-9.5M870.39 14v9.5M870.39 340v-9.5M889.25 14v9.5M889.25 340v-9.5M908.12 14v19M908.12 340v-19M926.98 14v9.5M926.98 340v-9.5M945.84 14v9.5M945.84 340v-9.5M964.71 14v9.5M964.71 340v-9.5M983.57 14v9.5M983.57 340v-9.5M1002.43 14v19M1002.43 340v-19M1021.30 14v9.5M1021.30 340v-9.5M1040.16 14v9.5M1040.16 340v-9.5M1059.02 14v9.5M1059.02 340v-9.5M1077.89 14v9.5M1077.89 340v-9.5M1096.75 14v19M1096.75 340v-19M1115.61 14v9.5M1115.61 340v-9.5M1134.48 14v9.5M1134.48 340v-9.5M1153.34 14v9.5M1153.34 340v-9.5M1172.20 14v9.5M1172.20 340v-9.5M1191.07 14v19M1191.07 340v-19M1209.93 14v9.5M1209.93 340v-9.5M1228.79 14v9.5M1228.79 340v-9.5M1247.66 14v9.5M1247.66 340v-9.5M1266.52 14v9.5M1266.52 340v-9.5M1285.38 14v19M1285.38 340v-19M1304.25 14v9.5M1304.25 340v-9.5M1323.11 14v9.5M1323.11 340v-9.5M1341.97 14v9.5M1341.97 340v-9.5M1360.84 14v9.5M1360.84 340v-9.5M813.8 22.15h9.5M1379.7 22.15h-9.5M813.8 30.30h9.5M1379.7 30.30h-9.5M813.8 38.45h9.5M1379.7 38.45h-9.5M813.8 46.60h9.5M1379.7 46.60h-9.5M813.8 54.75h19M1379.7 54.75h-19M813.8 62.90h9.5M1379.7 62.90h-9.5M813.8 71.05h9.5M1379.7 71.05h-9.5M813.8 79.20h9.5M1379.7 79.20h-9.5M813.8 87.35h9.5M1379.7 87.35h-9.5M813.8 95.50h19M1379.7 95.50h-19M813.8 103.65h9.5M1379.7 103.65h-9.5M813.8 111.80h9.5M1379.7 111.80h-9.5M813.8 119.95h9.5M1379.7 119.95h-9.5M813.8 128.10h9.5M1379.7 128.10h-9.5M813.8 136.25h19M1379.7 136.25h-19M813.8 144.40h9.5M1379.7 144.40h-9.5M813.8 152.55h9.5M1379.7 152.55h-9.5M813.8 160.70h9.5M1379.7 160.70h-9.5M813.8 168.85h9.5M1379.7 168.85h-9.5M813.8 177.00h19M1379.7 177.00h-19M813.8 185.15h9.5M1379.7 185.15h-9.5M813.8 193.30h9.5M1379.7 193.30h-9.5M813.8 201.45h9.5M1379.7 201.45h-9.5M813.8 209.60h9.5M1379.7 209.60h-9.5M813.8 217.75h19M1379.7 217.75h-19M813.8 225.90h9.5M1379.7 225.90h-9.5M813.8 234.05h9.5M1379.7 234.05h-9.5M813.8 242.20h9.5M1379.7 242.20h-9.5M813.8 250.35h9.5M1379.7 250.35h-9.5M813.8 258.50h19M1379.7 258.50h-19M813.8 266.65h9.5M1379.7 266.65h-9.5M813.8 274.80h9.5M1379.7 274.80h-9.5M813.8 282.95h9.5M1379.7 282.95h-9.5M813.8 291.10h9.5M1379.7 291.10h-9.5M813.8 299.25h19M1379.7 299.25h-19M813.8 307.40h9.5M1379.7 307.40h-9.5M813.8 315.55h9.5M1379.7 315.55h-9.5M813.8 323.70h9.5M1379.7 323.70h-9.5M813.8 331.85h9.5M1379.7 331.85h-9.5" stroke="#000" stroke-width="2" fill="none"/>
<rect x="813.8" y="14" width="565.90" height="326" stroke="#000" stroke-width="2.1" fill="none" stroke-linejoin="round"/>
<text transform="translate(791.5 21.50) scale(1 1.07)" text-anchor="end" class="t">0</text>
<text transform="translate(791.5 62.32) scale(1 1.07)" text-anchor="end" class="t">-5</text>
<text transform="translate(791.5 103.15) scale(1 1.07)" text-anchor="end" class="t">-10</text>
<text transform="translate(791.5 143.97) scale(1 1.07)" text-anchor="end" class="t">-15</text>
<text transform="translate(791.5 184.80) scale(1 1.07)" text-anchor="end" class="t">-20</text>
<text transform="translate(791.5 225.62) scale(1 1.07)" text-anchor="end" class="t">-25</text>
<text transform="translate(791.5 266.45) scale(1 1.07)" text-anchor="end" class="t">-30</text>
<text transform="translate(791.5 307.27) scale(1 1.07)" text-anchor="end" class="t">-35</text>
<text transform="translate(791.5 348.10) scale(1 1.07)" text-anchor="end" class="t">-40</text>
<text transform="translate(813.80 382.3) scale(1 1.07)" text-anchor="middle" class="t">1,0</text>
<text transform="translate(908.12 382.3) scale(1 1.07)" text-anchor="middle" class="t">1,5</text>
<text transform="translate(1002.43 382.3) scale(1 1.07)" text-anchor="middle" class="t">2,0</text>
<text transform="translate(1096.75 382.3) scale(1 1.07)" text-anchor="middle" class="t">2,5</text>
<text transform="translate(1191.07 382.3) scale(1 1.07)" text-anchor="middle" class="t">3,0</text>
<text transform="translate(1285.38 382.3) scale(1 1.07)" text-anchor="middle" class="t">3,5</text>
<text transform="translate(1379.70 382.3) scale(1 1.07)" text-anchor="middle" class="t">4,0</text>
<text transform="translate(1096.2 413.6) scale(1.005 1.04)" text-anchor="middle" class="a">Frequency (GHz)</text>
<text transform="translate(726 175.4) rotate(-90) scale(0.993 1.02)" text-anchor="middle" class="a">Magnitude (dB)</text>
<path d="M134 246H183" stroke="#000" stroke-width="2.2" stroke-dasharray="3 6" fill="none"/>
<path d="M134 273.1H185.2" stroke="#000" stroke-width="2.2" fill="none"/>
<text x="191" y="253.6" class="l">measured</text>
<text x="191" y="280.9" class="l">simulated</text>
<path d="M848 246H897" stroke="#000" stroke-width="2.2" stroke-dasharray="3 6" fill="none"/>
<path d="M848 273.1H899.2" stroke="#000" stroke-width="2.2" fill="none"/>
<text x="905" y="253.6" class="l">measured</text>
<text x="905" y="280.9" class="l">simulated</text>
<ellipse cx="181.4" cy="86" rx="5.2" ry="14.5" stroke="#000" stroke-width="1.1" fill="none"/>
<ellipse cx="469.3" cy="114.8" rx="6.0" ry="23.3" stroke="#000" stroke-width="1.1" fill="none"/>
<ellipse cx="903.2" cy="174.9" rx="5.2" ry="14.1" stroke="#000" stroke-width="1.1" fill="none"/>
<ellipse cx="1239.3" cy="93.6" rx="5.9" ry="23.2" stroke="#000" stroke-width="1.1" fill="none"/>
<text x="482" y="98" class="s">S</text>
<text transform="translate(493.8 103) scale(1.02 1)" class="sub">21</text>
<text x="189" y="119" class="s">S</text>
<text transform="translate(200.8 124) scale(1.02 1)" class="sub">11</text>
<text x="913.5" y="156.5" class="s">S</text>
<text transform="translate(925.3 161.5) scale(1.02 1)" class="sub">32</text>
<text x="1249" y="134" class="s">S</text>
<text transform="translate(1260.8 139) scale(1.02 1)" class="sub">22</text>
<text x="376.5" y="443" text-anchor="middle" class="c">(a)</text>
<text x="1099" y="443" text-anchor="middle" class="c">(b)</text>
</svg></body></html>
